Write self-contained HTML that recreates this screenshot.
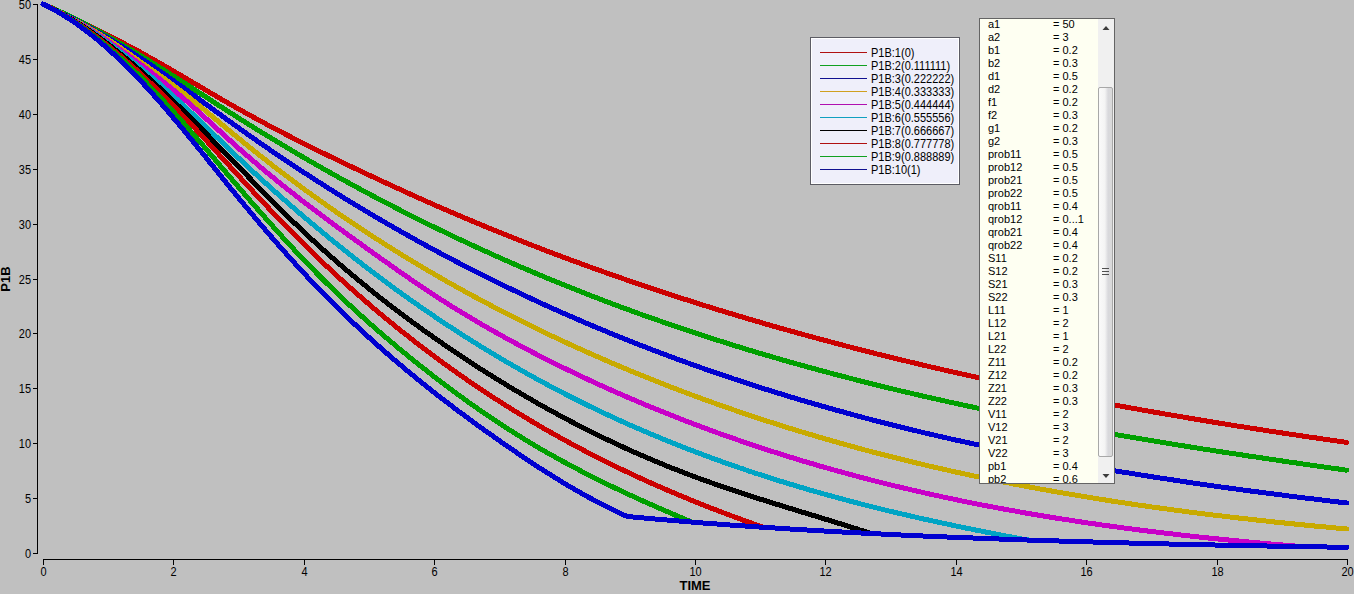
<!DOCTYPE html>
<html><head><meta charset="utf-8"><style>
html,body{margin:0;padding:0;}
body{width:1354px;height:594px;overflow:hidden;background:#c0c0c0;position:relative;font-family:"Liberation Sans", sans-serif;}
svg{position:absolute;left:0;top:0;}
#legend{position:absolute;left:810px;top:37px;width:148px;height:146px;border:1px solid #5c5c64;background:#efeffa;font-size:11px;color:#000;overflow:hidden;}
#legend .in{position:absolute;left:0;top:0;right:0;bottom:0;border:1px solid #ffffff;}
#lb{position:absolute;left:979px;top:18px;width:134px;height:464px;border:1px solid #646464;background:#fefff2;font-size:11px;color:#000;overflow:hidden;}
#sb{position:absolute;left:118px;top:0;width:16px;height:464px;background:#f0f0f0;}
#thumb{position:absolute;left:0px;top:68px;width:13px;height:368px;border:1px solid #a8a8a8;border-radius:2px;background:linear-gradient(to right,#fafafa 0%,#f4f4f4 45%,#d8d8dc 70%,#dadada 100%);}
</style></head><body>
<svg width="1354" height="594" viewBox="0 0 1354 594">
<g stroke="#000" stroke-width="1" shape-rendering="crispEdges">
<line x1="37.5" y1="4" x2="37.5" y2="554"/>
<line x1="43" y1="559.5" x2="1348" y2="559.5"/>
<line x1="33" y1="553.5" x2="37" y2="553.5"/><line x1="33" y1="498.5" x2="37" y2="498.5"/><line x1="33" y1="443.5" x2="37" y2="443.5"/><line x1="33" y1="388.5" x2="37" y2="388.5"/><line x1="33" y1="333.5" x2="37" y2="333.5"/><line x1="33" y1="279.5" x2="37" y2="279.5"/><line x1="33" y1="224.5" x2="37" y2="224.5"/><line x1="33" y1="169.5" x2="37" y2="169.5"/><line x1="33" y1="114.5" x2="37" y2="114.5"/><line x1="33" y1="59.5" x2="37" y2="59.5"/><line x1="33" y1="4.5" x2="37" y2="4.5"/>
<line x1="43.5" y1="559" x2="43.5" y2="565"/><line x1="173.5" y1="559" x2="173.5" y2="565"/><line x1="304.5" y1="559" x2="304.5" y2="565"/><line x1="434.5" y1="559" x2="434.5" y2="565"/><line x1="565.5" y1="559" x2="565.5" y2="565"/><line x1="695.5" y1="559" x2="695.5" y2="565"/><line x1="825.5" y1="559" x2="825.5" y2="565"/><line x1="956.5" y1="559" x2="956.5" y2="565"/><line x1="1086.5" y1="559" x2="1086.5" y2="565"/><line x1="1217.5" y1="559" x2="1217.5" y2="565"/><line x1="1347.5" y1="559" x2="1347.5" y2="565"/>
</g>
<g font-family="Liberation Sans" font-size="11" fill="#000">
<text transform="translate(31,557.5) scale(1,1.12)" text-anchor="end">0</text><text transform="translate(31,502.5) scale(1,1.12)" text-anchor="end">5</text><text transform="translate(31,447.5) scale(1,1.12)" text-anchor="end">10</text><text transform="translate(31,392.5) scale(1,1.12)" text-anchor="end">15</text><text transform="translate(31,337.5) scale(1,1.12)" text-anchor="end">20</text><text transform="translate(31,283.5) scale(1,1.12)" text-anchor="end">25</text><text transform="translate(31,228.5) scale(1,1.12)" text-anchor="end">30</text><text transform="translate(31,173.5) scale(1,1.12)" text-anchor="end">35</text><text transform="translate(31,118.5) scale(1,1.12)" text-anchor="end">40</text><text transform="translate(31,63.5) scale(1,1.12)" text-anchor="end">45</text><text transform="translate(31,8.5) scale(1,1.12)" text-anchor="end">50</text>
<text transform="translate(43.5,576) scale(1,1.12)" text-anchor="middle">0</text><text transform="translate(173.5,576) scale(1,1.12)" text-anchor="middle">2</text><text transform="translate(304.5,576) scale(1,1.12)" text-anchor="middle">4</text><text transform="translate(434.5,576) scale(1,1.12)" text-anchor="middle">6</text><text transform="translate(565.5,576) scale(1,1.12)" text-anchor="middle">8</text><text transform="translate(695.5,576) scale(1,1.12)" text-anchor="middle">10</text><text transform="translate(825.5,576) scale(1,1.12)" text-anchor="middle">12</text><text transform="translate(956.5,576) scale(1,1.12)" text-anchor="middle">14</text><text transform="translate(1086.5,576) scale(1,1.12)" text-anchor="middle">16</text><text transform="translate(1217.5,576) scale(1,1.12)" text-anchor="middle">18</text><text transform="translate(1347.5,576) scale(1,1.12)" text-anchor="middle">20</text>
<text x="695" y="590" text-anchor="middle" font-weight="bold" font-size="13">TIME</text>
<text transform="translate(10,279) rotate(-90)" text-anchor="middle" font-weight="bold" font-size="13">P1B</text>
</g>
<g fill="none" stroke-width="5" stroke-linejoin="round" stroke-linecap="round" shape-rendering="crispEdges">
<path d="M43.0,4.0 L45.0,4.9 L47.0,5.8 L49.0,6.7 L51.0,7.6 L53.0,8.5 L55.0,9.5 L57.0,10.4 L59.0,11.3 L61.0,12.2 L63.0,13.2 L65.0,14.1 L67.0,15.0 L69.0,16.0 L71.0,16.9 L73.0,17.9 L75.0,18.8 L77.0,19.8 L79.0,20.7 L81.0,21.7 L83.0,22.7 L85.0,23.7 L87.0,24.6 L89.0,25.6 L91.0,26.6 L93.0,27.6 L95.0,28.6 L97.0,29.6 L99.0,30.6 L101.0,31.6 L103.0,32.6 L105.0,33.6 L107.0,34.6 L109.0,35.6 L111.0,36.7 L113.0,37.7 L115.0,38.7 L117.0,39.8 L119.0,40.8 L121.0,41.9 L123.0,42.9 L125.0,44.0 L127.0,45.1 L129.0,46.1 L131.0,47.2 L133.0,48.3 L135.0,49.4 L137.0,50.5 L139.0,51.5 L141.0,52.7 L143.0,53.8 L145.0,54.9 L147.0,56.0 L149.0,57.1 L151.0,58.2 L153.0,59.4 L155.0,60.5 L157.0,61.6 L159.0,62.8 L161.0,63.9 L163.0,65.1 L165.0,66.2 L167.0,67.4 L169.0,68.5 L171.0,69.7 L173.0,70.9 L175.0,72.0 L177.0,73.2 L179.0,74.4 L181.0,75.5 L183.0,76.7 L185.0,77.9 L187.0,79.0 L189.0,80.2 L191.0,81.4 L193.0,82.6 L195.0,83.7 L197.0,84.9 L199.0,86.1 L201.0,87.3 L203.0,88.4 L205.0,89.6 L206.9,90.8 L208.9,91.9 L210.9,93.1 L212.9,94.3 L214.9,95.4 L216.9,96.6 L218.9,97.8 L220.9,98.9 L222.9,100.1 L224.9,101.2 L226.9,102.4 L228.9,103.5 L230.9,104.7 L232.9,105.8 L234.9,106.9 L236.9,108.1 L238.9,109.2 L240.9,110.3 L242.9,111.4 L244.9,112.5 L246.9,113.6 L248.9,114.7 L250.9,115.8 L252.9,116.9 L254.9,118.0 L256.9,119.1 L258.9,120.2 L260.9,121.3 L262.9,122.4 L264.9,123.4 L266.9,124.5 L268.9,125.6 L270.9,126.6 L272.9,127.7 L274.9,128.7 L276.9,129.8 L278.9,130.8 L280.9,131.9 L282.9,132.9 L284.9,133.9 L286.9,135.0 L288.9,136.0 L290.9,137.0 L292.9,138.1 L294.9,139.1 L296.9,140.1 L298.9,141.1 L300.9,142.1 L302.9,143.1 L304.9,144.1 L306.9,145.1 L308.9,146.1 L310.9,147.1 L312.9,148.1 L314.9,149.1 L316.9,150.1 L318.9,151.1 L320.9,152.1 L322.9,153.0 L324.9,154.0 L326.9,155.0 L328.9,156.0 L330.9,156.9 L332.9,157.9 L334.9,158.9 L336.9,159.8 L338.9,160.8 L340.9,161.8 L342.9,162.7 L344.9,163.7 L346.9,164.6 L348.9,165.6 L350.9,166.5 L352.9,167.5 L354.9,168.4 L356.9,169.4 L358.9,170.3 L360.9,171.3 L362.9,172.2 L364.9,173.2 L366.9,174.1 L368.9,175.0 L370.9,176.0 L372.9,176.9 L374.9,177.8 L376.9,178.8 L378.9,179.7 L380.9,180.6 L382.9,181.6 L384.9,182.5 L386.9,183.4 L388.9,184.3 L390.9,185.3 L392.9,186.2 L394.9,187.1 L396.9,188.0 L398.9,188.9 L400.9,189.8 L402.9,190.8 L404.9,191.7 L406.9,192.6 L408.9,193.5 L410.9,194.4 L412.9,195.3 L414.9,196.2 L416.9,197.1 L418.9,198.0 L420.9,198.9 L422.9,199.8 L424.9,200.7 L426.9,201.6 L428.9,202.4 L430.9,203.3 L432.9,204.2 L434.9,205.1 L436.9,206.0 L438.9,206.8 L440.9,207.7 L442.9,208.6 L444.9,209.5 L446.9,210.3 L448.9,211.2 L450.9,212.0 L452.9,212.9 L454.9,213.8 L456.9,214.6 L458.9,215.5 L460.9,216.3 L462.9,217.2 L464.9,218.0 L466.9,218.9 L468.9,219.7 L470.9,220.5 L472.9,221.4 L474.9,222.2 L476.9,223.1 L478.9,223.9 L480.9,224.7 L482.9,225.5 L484.9,226.4 L486.9,227.2 L488.9,228.0 L490.9,228.8 L492.9,229.7 L494.9,230.5 L496.9,231.3 L498.9,232.1 L500.9,232.9 L502.9,233.7 L504.9,234.5 L506.9,235.3 L508.9,236.1 L510.9,236.9 L512.9,237.7 L514.9,238.5 L516.9,239.3 L518.9,240.1 L520.9,240.9 L522.9,241.7 L524.9,242.4 L526.9,243.2 L528.9,244.0 L530.9,244.8 L532.8,245.6 L534.8,246.3 L536.8,247.1 L538.8,247.9 L540.8,248.7 L542.8,249.4 L544.8,250.2 L546.8,251.0 L548.8,251.7 L550.8,252.5 L552.8,253.2 L554.8,254.0 L556.8,254.7 L558.8,255.5 L560.8,256.2 L562.8,257.0 L564.8,257.7 L566.8,258.5 L568.8,259.2 L570.8,260.0 L572.8,260.7 L574.8,261.4 L576.8,262.2 L578.8,262.9 L580.8,263.6 L582.8,264.4 L584.8,265.1 L586.8,265.8 L588.8,266.6 L590.8,267.3 L592.8,268.0 L594.8,268.7 L596.8,269.4 L598.8,270.2 L600.8,270.9 L602.8,271.6 L604.8,272.3 L606.8,273.0 L608.8,273.7 L610.8,274.4 L612.8,275.1 L614.8,275.8 L616.8,276.5 L618.8,277.2 L620.8,277.9 L622.8,278.6 L624.8,279.3 L626.8,280.0 L628.8,280.7 L630.8,281.4 L632.8,282.1 L634.8,282.7 L636.8,283.4 L638.8,284.1 L640.8,284.8 L642.8,285.5 L644.8,286.1 L646.8,286.8 L648.8,287.5 L650.8,288.1 L652.8,288.8 L654.8,289.5 L656.8,290.2 L658.8,290.8 L660.8,291.5 L662.8,292.1 L664.8,292.8 L666.8,293.5 L668.8,294.1 L670.8,294.8 L672.8,295.4 L674.8,296.1 L676.8,296.7 L678.8,297.4 L680.8,298.0 L682.8,298.7 L684.8,299.3 L686.8,299.9 L688.8,300.6 L690.8,301.2 L692.8,301.8 L694.8,302.5 L696.8,303.1 L698.8,303.7 L700.8,304.4 L702.8,305.0 L704.8,305.6 L706.8,306.3 L708.8,306.9 L710.8,307.5 L712.8,308.1 L714.8,308.7 L716.8,309.4 L718.8,310.0 L720.8,310.6 L722.8,311.2 L724.8,311.8 L726.8,312.4 L728.8,313.0 L730.8,313.6 L732.8,314.2 L734.8,314.8 L736.8,315.4 L738.8,316.0 L740.8,316.6 L742.8,317.2 L744.8,317.8 L746.8,318.4 L748.8,319.0 L750.8,319.6 L752.8,320.2 L754.8,320.8 L756.8,321.4 L758.8,321.9 L760.8,322.5 L762.8,323.1 L764.8,323.7 L766.8,324.3 L768.8,324.8 L770.8,325.4 L772.8,326.0 L774.8,326.6 L776.8,327.1 L778.8,327.7 L780.8,328.3 L782.8,328.8 L784.8,329.4 L786.8,330.0 L788.8,330.5 L790.8,331.1 L792.8,331.6 L794.8,332.2 L796.8,332.8 L798.8,333.3 L800.8,333.9 L802.8,334.4 L804.8,335.0 L806.8,335.5 L808.8,336.1 L810.8,336.6 L812.8,337.2 L814.8,337.7 L816.8,338.2 L818.8,338.8 L820.8,339.3 L822.8,339.9 L824.8,340.4 L826.8,340.9 L828.8,341.5 L830.8,342.0 L832.8,342.5 L834.8,343.1 L836.8,343.6 L838.8,344.1 L840.8,344.6 L842.8,345.2 L844.8,345.7 L846.8,346.2 L848.8,346.7 L850.8,347.2 L852.8,347.8 L854.8,348.3 L856.8,348.8 L858.7,349.3 L860.7,349.8 L862.7,350.3 L864.7,350.8 L866.7,351.3 L868.7,351.8 L870.7,352.3 L872.7,352.8 L874.7,353.3 L876.7,353.9 L878.7,354.3 L880.7,354.8 L882.7,355.3 L884.7,355.8 L886.7,356.3 L888.7,356.8 L890.7,357.3 L892.7,357.8 L894.7,358.3 L896.7,358.8 L898.7,359.3 L900.7,359.8 L902.7,360.2 L904.7,360.7 L906.7,361.2 L908.7,361.7 L910.7,362.2 L912.7,362.6 L914.7,363.1 L916.7,363.6 L918.7,364.1 L920.7,364.5 L922.7,365.0 L924.7,365.5 L926.7,366.0 L928.7,366.4 L930.7,366.9 L932.7,367.4 L934.7,367.8 L936.7,368.3 L938.7,368.7 L940.7,369.2 L942.7,369.7 L944.7,370.1 L946.7,370.6 L948.7,371.0 L950.7,371.5 L952.7,371.9 L954.7,372.4 L956.7,372.8 L958.7,373.3 L960.7,373.7 L962.7,374.2 L964.7,374.6 L966.7,375.1 L968.7,375.5 L970.7,376.0 L972.7,376.4 L974.7,376.8 L976.7,377.3 L978.7,377.7 L980.7,378.2 L982.7,378.6 L984.7,379.0 L986.7,379.5 L988.7,379.9 L990.7,380.3 L992.7,380.8 L994.7,381.2 L996.7,381.6 L998.7,382.0 L1000.7,382.5 L1002.7,382.9 L1004.7,383.3 L1006.7,383.7 L1008.7,384.2 L1010.7,384.6 L1012.7,385.0 L1014.7,385.4 L1016.7,385.8 L1018.7,386.2 L1020.7,386.7 L1022.7,387.1 L1024.7,387.5 L1026.7,387.9 L1028.7,388.3 L1030.7,388.7 L1032.7,389.1 L1034.7,389.5 L1036.7,389.9 L1038.7,390.3 L1040.7,390.8 L1042.7,391.2 L1044.7,391.6 L1046.7,392.0 L1048.7,392.4 L1050.7,392.8 L1052.7,393.2 L1054.7,393.6 L1056.7,393.9 L1058.7,394.3 L1060.7,394.7 L1062.7,395.1 L1064.7,395.5 L1066.7,395.9 L1068.7,396.3 L1070.7,396.7 L1072.7,397.1 L1074.7,397.5 L1076.7,397.9 L1078.7,398.2 L1080.7,398.6 L1082.7,399.0 L1084.7,399.4 L1086.7,399.8 L1088.7,400.1 L1090.7,400.5 L1092.7,400.9 L1094.7,401.3 L1096.7,401.7 L1098.7,402.0 L1100.7,402.4 L1102.7,402.8 L1104.7,403.2 L1106.7,403.5 L1108.7,403.9 L1110.7,404.3 L1112.7,404.6 L1114.7,405.0 L1116.7,405.4 L1118.7,405.7 L1120.7,406.1 L1122.7,406.5 L1124.7,406.8 L1126.7,407.2 L1128.7,407.6 L1130.7,407.9 L1132.7,408.3 L1134.7,408.6 L1136.7,409.0 L1138.7,409.4 L1140.7,409.7 L1142.7,410.1 L1144.7,410.4 L1146.7,410.8 L1148.7,411.1 L1150.7,411.5 L1152.7,411.8 L1154.7,412.2 L1156.7,412.5 L1158.7,412.9 L1160.7,413.2 L1162.7,413.6 L1164.7,413.9 L1166.7,414.3 L1168.7,414.6 L1170.7,415.0 L1172.7,415.3 L1174.7,415.6 L1176.7,416.0 L1178.7,416.3 L1180.7,416.7 L1182.7,417.0 L1184.6,417.3 L1186.6,417.7 L1188.6,418.0 L1190.6,418.3 L1192.6,418.7 L1194.6,419.0 L1196.6,419.3 L1198.6,419.7 L1200.6,420.0 L1202.6,420.3 L1204.6,420.7 L1206.6,421.0 L1208.6,421.3 L1210.6,421.7 L1212.6,422.0 L1214.6,422.3 L1216.6,422.6 L1218.6,423.0 L1220.6,423.3 L1222.6,423.6 L1224.6,423.9 L1226.6,424.3 L1228.6,424.6 L1230.6,424.9 L1232.6,425.2 L1234.6,425.5 L1236.6,425.9 L1238.6,426.2 L1240.6,426.5 L1242.6,426.8 L1244.6,427.1 L1246.6,427.4 L1248.6,427.7 L1250.6,428.1 L1252.6,428.4 L1254.6,428.7 L1256.6,429.0 L1258.6,429.3 L1260.6,429.6 L1262.6,429.9 L1264.6,430.2 L1266.6,430.5 L1268.6,430.9 L1270.6,431.2 L1272.6,431.5 L1274.6,431.8 L1276.6,432.1 L1278.6,432.4 L1280.6,432.7 L1282.6,433.0 L1284.6,433.3 L1286.6,433.6 L1288.6,433.9 L1290.6,434.2 L1292.6,434.5 L1294.6,434.8 L1296.6,435.1 L1298.6,435.4 L1300.6,435.7 L1302.6,436.0 L1304.6,436.3 L1306.6,436.6 L1308.6,436.9 L1310.6,437.2 L1312.6,437.5 L1314.6,437.7 L1316.6,438.0 L1318.6,438.3 L1320.6,438.6 L1322.6,438.9 L1324.6,439.2 L1326.6,439.5 L1328.6,439.8 L1330.6,440.1 L1332.6,440.4 L1334.6,440.6 L1336.6,440.9 L1338.6,441.2 L1340.6,441.5 L1342.6,441.8 L1344.6,442.1 L1346.6,442.4" stroke="#cc0000"/>
<path d="M43.0,4.0 L45.0,4.9 L47.0,5.7 L49.0,6.6 L51.0,7.5 L53.0,8.4 L55.0,9.3 L57.0,10.2 L59.0,11.1 L61.0,12.1 L63.0,13.0 L65.0,14.0 L67.0,14.9 L69.0,15.9 L71.0,16.9 L73.0,17.9 L75.0,18.9 L77.0,19.9 L79.0,20.9 L81.0,21.9 L83.0,22.9 L85.0,24.0 L87.0,25.0 L89.0,26.1 L91.0,27.1 L93.0,28.2 L95.0,29.3 L97.0,30.4 L99.0,31.4 L101.0,32.5 L103.0,33.6 L105.0,34.8 L107.0,35.9 L109.0,37.0 L111.0,38.1 L113.0,39.3 L115.0,40.4 L117.0,41.6 L119.0,42.7 L121.0,43.9 L123.0,45.0 L125.0,46.2 L127.0,47.4 L129.0,48.6 L131.0,49.8 L133.0,51.0 L135.0,52.2 L137.0,53.4 L139.0,54.6 L141.0,55.8 L143.0,57.0 L145.0,58.3 L147.0,59.5 L149.0,60.7 L151.0,62.0 L153.0,63.2 L155.0,64.5 L157.0,65.7 L159.0,67.0 L161.0,68.2 L163.0,69.5 L165.0,70.7 L167.0,72.0 L169.0,73.3 L171.0,74.6 L173.0,75.8 L175.0,77.1 L177.0,78.4 L179.0,79.7 L181.0,81.0 L183.0,82.2 L185.0,83.5 L187.0,84.8 L189.0,86.1 L191.0,87.4 L193.0,88.7 L195.0,90.0 L197.0,91.3 L199.0,92.6 L201.0,93.9 L203.0,95.1 L205.0,96.4 L206.9,97.7 L208.9,99.0 L210.9,100.3 L212.9,101.6 L214.9,102.9 L216.9,104.2 L218.9,105.5 L220.9,106.8 L222.9,108.0 L224.9,109.3 L226.9,110.6 L228.9,111.9 L230.9,113.2 L232.9,114.4 L234.9,115.7 L236.9,117.0 L238.9,118.2 L240.9,119.5 L242.9,120.7 L244.9,122.0 L246.9,123.2 L248.9,124.5 L250.9,125.7 L252.9,127.0 L254.9,128.2 L256.9,129.5 L258.9,130.7 L260.9,131.9 L262.9,133.1 L264.9,134.4 L266.9,135.6 L268.9,136.8 L270.9,138.0 L272.9,139.2 L274.9,140.4 L276.9,141.6 L278.9,142.8 L280.9,144.0 L282.9,145.2 L284.9,146.4 L286.9,147.6 L288.9,148.8 L290.9,150.0 L292.9,151.2 L294.9,152.4 L296.9,153.5 L298.9,154.7 L300.9,155.9 L302.9,157.0 L304.9,158.2 L306.9,159.4 L308.9,160.5 L310.9,161.7 L312.9,162.8 L314.9,164.0 L316.9,165.1 L318.9,166.2 L320.9,167.4 L322.9,168.5 L324.9,169.7 L326.9,170.8 L328.9,171.9 L330.9,173.0 L332.9,174.2 L334.9,175.3 L336.9,176.4 L338.9,177.5 L340.9,178.6 L342.9,179.7 L344.9,180.8 L346.9,181.9 L348.9,183.0 L350.9,184.1 L352.9,185.2 L354.9,186.3 L356.9,187.4 L358.9,188.5 L360.9,189.5 L362.9,190.6 L364.9,191.7 L366.9,192.8 L368.9,193.8 L370.9,194.9 L372.9,196.0 L374.9,197.0 L376.9,198.1 L378.9,199.1 L380.9,200.2 L382.9,201.2 L384.9,202.3 L386.9,203.3 L388.9,204.4 L390.9,205.4 L392.9,206.4 L394.9,207.5 L396.9,208.5 L398.9,209.5 L400.9,210.5 L402.9,211.6 L404.9,212.6 L406.9,213.6 L408.9,214.6 L410.9,215.6 L412.9,216.6 L414.9,217.6 L416.9,218.6 L418.9,219.6 L420.9,220.6 L422.9,221.6 L424.9,222.6 L426.9,223.6 L428.9,224.6 L430.9,225.6 L432.9,226.5 L434.9,227.5 L436.9,228.5 L438.9,229.5 L440.9,230.4 L442.9,231.4 L444.9,232.3 L446.9,233.3 L448.9,234.3 L450.9,235.2 L452.9,236.2 L454.9,237.1 L456.9,238.1 L458.9,239.0 L460.9,240.0 L462.9,240.9 L464.9,241.8 L466.9,242.8 L468.9,243.7 L470.9,244.6 L472.9,245.5 L474.9,246.5 L476.9,247.4 L478.9,248.3 L480.9,249.2 L482.9,250.1 L484.9,251.0 L486.9,251.9 L488.9,252.9 L490.9,253.8 L492.9,254.7 L494.9,255.6 L496.9,256.4 L498.9,257.3 L500.9,258.2 L502.9,259.1 L504.9,260.0 L506.9,260.9 L508.9,261.8 L510.9,262.6 L512.9,263.5 L514.9,264.4 L516.9,265.2 L518.9,266.1 L520.9,267.0 L522.9,267.8 L524.9,268.7 L526.9,269.5 L528.9,270.4 L530.9,271.2 L532.8,272.1 L534.8,272.9 L536.8,273.8 L538.8,274.6 L540.8,275.5 L542.8,276.3 L544.8,277.1 L546.8,278.0 L548.8,278.8 L550.8,279.6 L552.8,280.4 L554.8,281.3 L556.8,282.1 L558.8,282.9 L560.8,283.7 L562.8,284.5 L564.8,285.3 L566.8,286.1 L568.8,286.9 L570.8,287.7 L572.8,288.5 L574.8,289.3 L576.8,290.1 L578.8,290.9 L580.8,291.7 L582.8,292.5 L584.8,293.3 L586.8,294.1 L588.8,294.8 L590.8,295.6 L592.8,296.4 L594.8,297.2 L596.8,297.9 L598.8,298.7 L600.8,299.5 L602.8,300.2 L604.8,301.0 L606.8,301.7 L608.8,302.5 L610.8,303.2 L612.8,304.0 L614.8,304.7 L616.8,305.5 L618.8,306.2 L620.8,307.0 L622.8,307.7 L624.8,308.5 L626.8,309.2 L628.8,309.9 L630.8,310.7 L632.8,311.4 L634.8,312.1 L636.8,312.8 L638.8,313.6 L640.8,314.3 L642.8,315.0 L644.8,315.7 L646.8,316.4 L648.8,317.1 L650.8,317.8 L652.8,318.5 L654.8,319.2 L656.8,319.9 L658.8,320.6 L660.8,321.3 L662.8,322.0 L664.8,322.7 L666.8,323.4 L668.8,324.1 L670.8,324.8 L672.8,325.5 L674.8,326.2 L676.8,326.8 L678.8,327.5 L680.8,328.2 L682.8,328.9 L684.8,329.5 L686.8,330.2 L688.8,330.9 L690.8,331.5 L692.8,332.2 L694.8,332.9 L696.8,333.5 L698.8,334.2 L700.8,334.8 L702.8,335.5 L704.8,336.1 L706.8,336.8 L708.8,337.4 L710.8,338.1 L712.8,338.7 L714.8,339.4 L716.8,340.0 L718.8,340.6 L720.8,341.3 L722.8,341.9 L724.8,342.5 L726.8,343.2 L728.8,343.8 L730.8,344.4 L732.8,345.0 L734.8,345.7 L736.8,346.3 L738.8,346.9 L740.8,347.5 L742.8,348.1 L744.8,348.7 L746.8,349.3 L748.8,350.0 L750.8,350.6 L752.8,351.2 L754.8,351.8 L756.8,352.4 L758.8,353.0 L760.8,353.6 L762.8,354.1 L764.8,354.7 L766.8,355.3 L768.8,355.9 L770.8,356.5 L772.8,357.1 L774.8,357.7 L776.8,358.2 L778.8,358.8 L780.8,359.4 L782.8,360.0 L784.8,360.6 L786.8,361.1 L788.8,361.7 L790.8,362.3 L792.8,362.8 L794.8,363.4 L796.8,364.0 L798.8,364.5 L800.8,365.1 L802.8,365.6 L804.8,366.2 L806.8,366.7 L808.8,367.3 L810.8,367.8 L812.8,368.4 L814.8,368.9 L816.8,369.5 L818.8,370.0 L820.8,370.6 L822.8,371.1 L824.8,371.6 L826.8,372.2 L828.8,372.7 L830.8,373.2 L832.8,373.8 L834.8,374.3 L836.8,374.8 L838.8,375.4 L840.8,375.9 L842.8,376.4 L844.8,376.9 L846.8,377.4 L848.8,378.0 L850.8,378.5 L852.8,379.0 L854.8,379.5 L856.8,380.0 L858.7,380.5 L860.7,381.0 L862.7,381.5 L864.7,382.0 L866.7,382.5 L868.7,383.0 L870.7,383.5 L872.7,384.0 L874.7,384.5 L876.7,385.0 L878.7,385.5 L880.7,386.0 L882.7,386.5 L884.7,387.0 L886.7,387.5 L888.7,388.0 L890.7,388.5 L892.7,388.9 L894.7,389.4 L896.7,389.9 L898.7,390.4 L900.7,390.9 L902.7,391.3 L904.7,391.8 L906.7,392.3 L908.7,392.7 L910.7,393.2 L912.7,393.7 L914.7,394.2 L916.7,394.6 L918.7,395.1 L920.7,395.5 L922.7,396.0 L924.7,396.5 L926.7,396.9 L928.7,397.4 L930.7,397.8 L932.7,398.3 L934.7,398.7 L936.7,399.2 L938.7,399.6 L940.7,400.1 L942.7,400.5 L944.7,401.0 L946.7,401.4 L948.7,401.9 L950.7,402.3 L952.7,402.7 L954.7,403.2 L956.7,403.6 L958.7,404.1 L960.7,404.5 L962.7,404.9 L964.7,405.3 L966.7,405.8 L968.7,406.2 L970.7,406.6 L972.7,407.1 L974.7,407.5 L976.7,407.9 L978.7,408.3 L980.7,408.8 L982.7,409.2 L984.7,409.6 L986.7,410.0 L988.7,410.4 L990.7,410.8 L992.7,411.3 L994.7,411.7 L996.7,412.1 L998.7,412.5 L1000.7,412.9 L1002.7,413.3 L1004.7,413.7 L1006.7,414.1 L1008.7,414.5 L1010.7,414.9 L1012.7,415.3 L1014.7,415.7 L1016.7,416.1 L1018.7,416.5 L1020.7,416.9 L1022.7,417.3 L1024.7,417.7 L1026.7,418.1 L1028.7,418.5 L1030.7,418.9 L1032.7,419.3 L1034.7,419.7 L1036.7,420.1 L1038.7,420.4 L1040.7,420.8 L1042.7,421.2 L1044.7,421.6 L1046.7,422.0 L1048.7,422.4 L1050.7,422.7 L1052.7,423.1 L1054.7,423.5 L1056.7,423.9 L1058.7,424.2 L1060.7,424.6 L1062.7,425.0 L1064.7,425.4 L1066.7,425.7 L1068.7,426.1 L1070.7,426.5 L1072.7,426.8 L1074.7,427.2 L1076.7,427.6 L1078.7,427.9 L1080.7,428.3 L1082.7,428.7 L1084.7,429.0 L1086.7,429.4 L1088.7,429.8 L1090.7,430.1 L1092.7,430.5 L1094.7,430.8 L1096.7,431.2 L1098.7,431.5 L1100.7,431.9 L1102.7,432.3 L1104.7,432.6 L1106.7,433.0 L1108.7,433.3 L1110.7,433.7 L1112.7,434.0 L1114.7,434.4 L1116.7,434.7 L1118.7,435.1 L1120.7,435.4 L1122.7,435.7 L1124.7,436.1 L1126.7,436.4 L1128.7,436.8 L1130.7,437.1 L1132.7,437.5 L1134.7,437.8 L1136.7,438.1 L1138.7,438.5 L1140.7,438.8 L1142.7,439.1 L1144.7,439.5 L1146.7,439.8 L1148.7,440.1 L1150.7,440.5 L1152.7,440.8 L1154.7,441.1 L1156.7,441.5 L1158.7,441.8 L1160.7,442.1 L1162.7,442.5 L1164.7,442.8 L1166.7,443.1 L1168.7,443.4 L1170.7,443.8 L1172.7,444.1 L1174.7,444.4 L1176.7,444.7 L1178.7,445.1 L1180.7,445.4 L1182.7,445.7 L1184.6,446.0 L1186.6,446.4 L1188.6,446.7 L1190.6,447.0 L1192.6,447.3 L1194.6,447.6 L1196.6,447.9 L1198.6,448.3 L1200.6,448.6 L1202.6,448.9 L1204.6,449.2 L1206.6,449.5 L1208.6,449.8 L1210.6,450.1 L1212.6,450.4 L1214.6,450.8 L1216.6,451.1 L1218.6,451.4 L1220.6,451.7 L1222.6,452.0 L1224.6,452.3 L1226.6,452.6 L1228.6,452.9 L1230.6,453.2 L1232.6,453.5 L1234.6,453.8 L1236.6,454.1 L1238.6,454.4 L1240.6,454.7 L1242.6,455.0 L1244.6,455.3 L1246.6,455.6 L1248.6,456.0 L1250.6,456.3 L1252.6,456.6 L1254.6,456.9 L1256.6,457.1 L1258.6,457.4 L1260.6,457.7 L1262.6,458.0 L1264.6,458.3 L1266.6,458.6 L1268.6,458.9 L1270.6,459.2 L1272.6,459.5 L1274.6,459.8 L1276.6,460.1 L1278.6,460.4 L1280.6,460.7 L1282.6,461.0 L1284.6,461.3 L1286.6,461.6 L1288.6,461.9 L1290.6,462.2 L1292.6,462.5 L1294.6,462.7 L1296.6,463.0 L1298.6,463.3 L1300.6,463.6 L1302.6,463.9 L1304.6,464.2 L1306.6,464.5 L1308.6,464.8 L1310.6,465.1 L1312.6,465.3 L1314.6,465.6 L1316.6,465.9 L1318.6,466.2 L1320.6,466.5 L1322.6,466.8 L1324.6,467.1 L1326.6,467.3 L1328.6,467.6 L1330.6,467.9 L1332.6,468.2 L1334.6,468.5 L1336.6,468.8 L1338.6,469.0 L1340.6,469.3 L1342.6,469.6 L1344.6,469.9 L1346.6,470.2" stroke="#00a000"/>
<path d="M43.0,4.0 L45.0,4.9 L47.0,5.9 L49.0,6.8 L51.0,7.8 L53.0,8.7 L55.0,9.7 L57.0,10.7 L59.0,11.7 L61.0,12.6 L63.0,13.6 L65.0,14.6 L67.0,15.7 L69.0,16.7 L71.0,17.7 L73.0,18.7 L75.0,19.8 L77.0,20.8 L79.0,21.9 L81.0,22.9 L83.0,24.0 L85.0,25.1 L87.0,26.2 L89.0,27.3 L91.0,28.4 L93.0,29.5 L95.0,30.6 L97.0,31.7 L99.0,32.8 L101.0,34.0 L103.0,35.1 L105.0,36.3 L107.0,37.4 L109.0,38.6 L111.0,39.8 L113.0,41.0 L115.0,42.2 L117.0,43.4 L119.0,44.6 L121.0,45.8 L123.0,47.0 L125.0,48.3 L127.0,49.5 L129.0,50.8 L131.0,52.1 L133.0,53.3 L135.0,54.6 L137.0,55.9 L139.0,57.2 L141.0,58.5 L143.0,59.8 L145.0,61.1 L147.0,62.5 L149.0,63.8 L151.0,65.2 L153.0,66.5 L155.0,67.9 L157.0,69.2 L159.0,70.6 L161.0,72.0 L163.0,73.4 L165.0,74.8 L167.0,76.2 L169.0,77.6 L171.0,79.0 L173.0,80.4 L175.0,81.8 L177.0,83.3 L179.0,84.7 L181.0,86.1 L183.0,87.5 L185.0,89.0 L187.0,90.4 L189.0,91.9 L191.0,93.3 L193.0,94.8 L195.0,96.2 L197.0,97.7 L199.0,99.1 L201.0,100.6 L203.0,102.0 L205.0,103.5 L206.9,104.9 L208.9,106.4 L210.9,107.9 L212.9,109.3 L214.9,110.8 L216.9,112.2 L218.9,113.7 L220.9,115.1 L222.9,116.6 L224.9,118.0 L226.9,119.5 L228.9,120.9 L230.9,122.4 L232.9,123.8 L234.9,125.3 L236.9,126.7 L238.9,128.1 L240.9,129.5 L242.9,131.0 L244.9,132.4 L246.9,133.8 L248.9,135.2 L250.9,136.6 L252.9,138.0 L254.9,139.4 L256.9,140.8 L258.9,142.2 L260.9,143.6 L262.9,145.0 L264.9,146.3 L266.9,147.7 L268.9,149.1 L270.9,150.5 L272.9,151.8 L274.9,153.2 L276.9,154.5 L278.9,155.9 L280.9,157.2 L282.9,158.6 L284.9,159.9 L286.9,161.3 L288.9,162.6 L290.9,163.9 L292.9,165.3 L294.9,166.6 L296.9,167.9 L298.9,169.2 L300.9,170.5 L302.9,171.8 L304.9,173.1 L306.9,174.4 L308.9,175.7 L310.9,177.0 L312.9,178.3 L314.9,179.6 L316.9,180.9 L318.9,182.2 L320.9,183.4 L322.9,184.7 L324.9,186.0 L326.9,187.2 L328.9,188.5 L330.9,189.8 L332.9,191.0 L334.9,192.3 L336.9,193.5 L338.9,194.8 L340.9,196.0 L342.9,197.2 L344.9,198.5 L346.9,199.7 L348.9,200.9 L350.9,202.1 L352.9,203.4 L354.9,204.6 L356.9,205.8 L358.9,207.0 L360.9,208.2 L362.9,209.4 L364.9,210.6 L366.9,211.8 L368.9,213.0 L370.9,214.2 L372.9,215.3 L374.9,216.5 L376.9,217.7 L378.9,218.9 L380.9,220.0 L382.9,221.2 L384.9,222.4 L386.9,223.5 L388.9,224.7 L390.9,225.8 L392.9,227.0 L394.9,228.1 L396.9,229.3 L398.9,230.4 L400.9,231.5 L402.9,232.7 L404.9,233.8 L406.9,234.9 L408.9,236.0 L410.9,237.2 L412.9,238.3 L414.9,239.4 L416.9,240.5 L418.9,241.6 L420.9,242.7 L422.9,243.8 L424.9,244.9 L426.9,246.0 L428.9,247.1 L430.9,248.2 L432.9,249.3 L434.9,250.3 L436.9,251.4 L438.9,252.5 L440.9,253.5 L442.9,254.6 L444.9,255.7 L446.9,256.7 L448.9,257.8 L450.9,258.8 L452.9,259.9 L454.9,260.9 L456.9,262.0 L458.9,263.0 L460.9,264.1 L462.9,265.1 L464.9,266.1 L466.9,267.2 L468.9,268.2 L470.9,269.2 L472.9,270.2 L474.9,271.2 L476.9,272.3 L478.9,273.3 L480.9,274.3 L482.9,275.3 L484.9,276.3 L486.9,277.3 L488.9,278.3 L490.9,279.3 L492.9,280.2 L494.9,281.2 L496.9,282.2 L498.9,283.2 L500.9,284.2 L502.9,285.1 L504.9,286.1 L506.9,287.1 L508.9,288.0 L510.9,289.0 L512.9,290.0 L514.9,290.9 L516.9,291.9 L518.9,292.8 L520.9,293.8 L522.9,294.7 L524.9,295.6 L526.9,296.6 L528.9,297.5 L530.9,298.4 L532.8,299.4 L534.8,300.3 L536.8,301.2 L538.8,302.1 L540.8,303.1 L542.8,304.0 L544.8,304.9 L546.8,305.8 L548.8,306.7 L550.8,307.6 L552.8,308.5 L554.8,309.4 L556.8,310.3 L558.8,311.2 L560.8,312.1 L562.8,313.0 L564.8,313.8 L566.8,314.7 L568.8,315.6 L570.8,316.5 L572.8,317.3 L574.8,318.2 L576.8,319.1 L578.8,319.9 L580.8,320.8 L582.8,321.7 L584.8,322.5 L586.8,323.4 L588.8,324.2 L590.8,325.1 L592.8,325.9 L594.8,326.8 L596.8,327.6 L598.8,328.4 L600.8,329.3 L602.8,330.1 L604.8,330.9 L606.8,331.7 L608.8,332.6 L610.8,333.4 L612.8,334.2 L614.8,335.0 L616.8,335.8 L618.8,336.6 L620.8,337.4 L622.8,338.3 L624.8,339.1 L626.8,339.9 L628.8,340.6 L630.8,341.4 L632.8,342.2 L634.8,343.0 L636.8,343.8 L638.8,344.6 L640.8,345.4 L642.8,346.1 L644.8,346.9 L646.8,347.7 L648.8,348.5 L650.8,349.2 L652.8,350.0 L654.8,350.8 L656.8,351.5 L658.8,352.3 L660.8,353.0 L662.8,353.8 L664.8,354.5 L666.8,355.3 L668.8,356.0 L670.8,356.8 L672.8,357.5 L674.8,358.2 L676.8,359.0 L678.8,359.7 L680.8,360.4 L682.8,361.2 L684.8,361.9 L686.8,362.6 L688.8,363.3 L690.8,364.1 L692.8,364.8 L694.8,365.5 L696.8,366.2 L698.8,366.9 L700.8,367.6 L702.8,368.3 L704.8,369.0 L706.8,369.7 L708.8,370.4 L710.8,371.1 L712.8,371.8 L714.8,372.5 L716.8,373.2 L718.8,373.9 L720.8,374.5 L722.8,375.2 L724.8,375.9 L726.8,376.6 L728.8,377.2 L730.8,377.9 L732.8,378.6 L734.8,379.3 L736.8,379.9 L738.8,380.6 L740.8,381.2 L742.8,381.9 L744.8,382.5 L746.8,383.2 L748.8,383.8 L750.8,384.5 L752.8,385.1 L754.8,385.8 L756.8,386.4 L758.8,387.1 L760.8,387.7 L762.8,388.3 L764.8,389.0 L766.8,389.6 L768.8,390.2 L770.8,390.9 L772.8,391.5 L774.8,392.1 L776.8,392.7 L778.8,393.3 L780.8,393.9 L782.8,394.6 L784.8,395.2 L786.8,395.8 L788.8,396.4 L790.8,397.0 L792.8,397.6 L794.8,398.2 L796.8,398.8 L798.8,399.4 L800.8,400.0 L802.8,400.6 L804.8,401.2 L806.8,401.7 L808.8,402.3 L810.8,402.9 L812.8,403.5 L814.8,404.1 L816.8,404.6 L818.8,405.2 L820.8,405.8 L822.8,406.4 L824.8,406.9 L826.8,407.5 L828.8,408.1 L830.8,408.6 L832.8,409.2 L834.8,409.7 L836.8,410.3 L838.8,410.8 L840.8,411.4 L842.8,411.9 L844.8,412.5 L846.8,413.0 L848.8,413.6 L850.8,414.1 L852.8,414.7 L854.8,415.2 L856.8,415.7 L858.7,416.3 L860.7,416.8 L862.7,417.3 L864.7,417.9 L866.7,418.4 L868.7,418.9 L870.7,419.4 L872.7,420.0 L874.7,420.5 L876.7,421.0 L878.7,421.5 L880.7,422.0 L882.7,422.5 L884.7,423.0 L886.7,423.6 L888.7,424.1 L890.7,424.6 L892.7,425.1 L894.7,425.6 L896.7,426.1 L898.7,426.6 L900.7,427.1 L902.7,427.6 L904.7,428.0 L906.7,428.5 L908.7,429.0 L910.7,429.5 L912.7,430.0 L914.7,430.5 L916.7,431.0 L918.7,431.4 L920.7,431.9 L922.7,432.4 L924.7,432.9 L926.7,433.3 L928.7,433.8 L930.7,434.3 L932.7,434.7 L934.7,435.2 L936.7,435.7 L938.7,436.1 L940.7,436.6 L942.7,437.0 L944.7,437.5 L946.7,438.0 L948.7,438.4 L950.7,438.9 L952.7,439.3 L954.7,439.8 L956.7,440.2 L958.7,440.6 L960.7,441.1 L962.7,441.5 L964.7,442.0 L966.7,442.4 L968.7,442.8 L970.7,443.3 L972.7,443.7 L974.7,444.1 L976.7,444.6 L978.7,445.0 L980.7,445.4 L982.7,445.9 L984.7,446.3 L986.7,446.7 L988.7,447.1 L990.7,447.5 L992.7,448.0 L994.7,448.4 L996.7,448.8 L998.7,449.2 L1000.7,449.6 L1002.7,450.0 L1004.7,450.4 L1006.7,450.8 L1008.7,451.2 L1010.7,451.7 L1012.7,452.1 L1014.7,452.5 L1016.7,452.9 L1018.7,453.3 L1020.7,453.6 L1022.7,454.0 L1024.7,454.4 L1026.7,454.8 L1028.7,455.2 L1030.7,455.6 L1032.7,456.0 L1034.7,456.4 L1036.7,456.8 L1038.7,457.2 L1040.7,457.5 L1042.7,457.9 L1044.7,458.3 L1046.7,458.7 L1048.7,459.0 L1050.7,459.4 L1052.7,459.8 L1054.7,460.2 L1056.7,460.5 L1058.7,460.9 L1060.7,461.3 L1062.7,461.6 L1064.7,462.0 L1066.7,462.4 L1068.7,462.7 L1070.7,463.1 L1072.7,463.5 L1074.7,463.8 L1076.7,464.2 L1078.7,464.5 L1080.7,464.9 L1082.7,465.2 L1084.7,465.6 L1086.7,465.9 L1088.7,466.3 L1090.7,466.6 L1092.7,467.0 L1094.7,467.3 L1096.7,467.7 L1098.7,468.0 L1100.7,468.4 L1102.7,468.7 L1104.7,469.1 L1106.7,469.4 L1108.7,469.7 L1110.7,470.1 L1112.7,470.4 L1114.7,470.7 L1116.7,471.1 L1118.7,471.4 L1120.7,471.7 L1122.7,472.1 L1124.7,472.4 L1126.7,472.7 L1128.7,473.0 L1130.7,473.4 L1132.7,473.7 L1134.7,474.0 L1136.7,474.3 L1138.7,474.7 L1140.7,475.0 L1142.7,475.3 L1144.7,475.6 L1146.7,475.9 L1148.7,476.2 L1150.7,476.6 L1152.7,476.9 L1154.7,477.2 L1156.7,477.5 L1158.7,477.8 L1160.7,478.1 L1162.7,478.4 L1164.7,478.7 L1166.7,479.0 L1168.7,479.3 L1170.7,479.6 L1172.7,479.9 L1174.7,480.2 L1176.7,480.5 L1178.7,480.8 L1180.7,481.1 L1182.7,481.4 L1184.6,481.7 L1186.6,482.0 L1188.6,482.3 L1190.6,482.6 L1192.6,482.9 L1194.6,483.2 L1196.6,483.5 L1198.6,483.8 L1200.6,484.1 L1202.6,484.3 L1204.6,484.6 L1206.6,484.9 L1208.6,485.2 L1210.6,485.5 L1212.6,485.8 L1214.6,486.1 L1216.6,486.3 L1218.6,486.6 L1220.6,486.9 L1222.6,487.2 L1224.6,487.4 L1226.6,487.7 L1228.6,488.0 L1230.6,488.3 L1232.6,488.6 L1234.6,488.8 L1236.6,489.1 L1238.6,489.4 L1240.6,489.6 L1242.6,489.9 L1244.6,490.2 L1246.6,490.4 L1248.6,490.7 L1250.6,491.0 L1252.6,491.2 L1254.6,491.5 L1256.6,491.8 L1258.6,492.0 L1260.6,492.3 L1262.6,492.6 L1264.6,492.8 L1266.6,493.1 L1268.6,493.3 L1270.6,493.6 L1272.6,493.9 L1274.6,494.1 L1276.6,494.4 L1278.6,494.6 L1280.6,494.9 L1282.6,495.1 L1284.6,495.4 L1286.6,495.7 L1288.6,495.9 L1290.6,496.2 L1292.6,496.4 L1294.6,496.7 L1296.6,496.9 L1298.6,497.2 L1300.6,497.4 L1302.6,497.7 L1304.6,497.9 L1306.6,498.2 L1308.6,498.4 L1310.6,498.6 L1312.6,498.9 L1314.6,499.1 L1316.6,499.4 L1318.6,499.6 L1320.6,499.9 L1322.6,500.1 L1324.6,500.3 L1326.6,500.6 L1328.6,500.8 L1330.6,501.1 L1332.6,501.3 L1334.6,501.5 L1336.6,501.8 L1338.6,502.0 L1340.6,502.3 L1342.6,502.5 L1344.6,502.7 L1346.6,503.0" stroke="#0000d0"/>
<path d="M43.0,4.0 L45.0,5.0 L47.0,6.0 L49.0,7.0 L51.0,8.0 L53.0,9.0 L55.0,10.0 L57.0,11.0 L59.0,12.0 L61.0,13.0 L63.0,14.0 L65.0,15.1 L67.0,16.1 L69.0,17.1 L71.0,18.2 L73.0,19.2 L75.0,20.3 L77.0,21.4 L79.0,22.4 L81.0,23.5 L83.0,24.6 L85.0,25.7 L87.0,26.8 L89.0,28.0 L91.0,29.1 L93.0,30.3 L95.0,31.5 L97.0,32.6 L99.0,33.8 L101.0,35.1 L103.0,36.3 L105.0,37.6 L107.0,38.8 L109.0,40.1 L111.0,41.4 L113.0,42.8 L115.0,44.1 L117.0,45.5 L119.0,46.8 L121.0,48.2 L123.0,49.6 L125.0,51.0 L127.0,52.4 L129.0,53.8 L131.0,55.2 L133.0,56.6 L135.0,58.0 L137.0,59.5 L139.0,60.9 L141.0,62.3 L143.0,63.7 L145.0,65.1 L147.0,66.5 L149.0,67.9 L151.0,69.3 L153.0,70.7 L155.0,72.1 L157.0,73.5 L159.0,74.9 L161.0,76.3 L163.0,77.8 L165.0,79.2 L167.0,80.6 L169.0,82.1 L171.0,83.6 L173.0,85.0 L175.0,86.5 L177.0,88.0 L179.0,89.6 L181.0,91.1 L183.0,92.6 L185.0,94.2 L187.0,95.8 L189.0,97.4 L191.0,99.0 L193.0,100.6 L195.0,102.2 L197.0,103.8 L199.0,105.4 L201.0,107.1 L203.0,108.7 L205.0,110.3 L206.9,112.0 L208.9,113.6 L210.9,115.3 L212.9,117.0 L214.9,118.6 L216.9,120.3 L218.9,122.0 L220.9,123.6 L222.9,125.3 L224.9,127.0 L226.9,128.6 L228.9,130.3 L230.9,132.0 L232.9,133.6 L234.9,135.3 L236.9,136.9 L238.9,138.6 L240.9,140.2 L242.9,141.8 L244.9,143.5 L246.9,145.1 L248.9,146.7 L250.9,148.3 L252.9,149.9 L254.9,151.5 L256.9,153.1 L258.9,154.7 L260.9,156.3 L262.9,157.9 L264.9,159.4 L266.9,161.0 L268.9,162.6 L270.9,164.1 L272.9,165.7 L274.9,167.2 L276.9,168.7 L278.9,170.3 L280.9,171.8 L282.9,173.3 L284.9,174.9 L286.9,176.4 L288.9,177.9 L290.9,179.4 L292.9,180.9 L294.9,182.4 L296.9,183.8 L298.9,185.3 L300.9,186.8 L302.9,188.3 L304.9,189.7 L306.9,191.2 L308.9,192.6 L310.9,194.1 L312.9,195.5 L314.9,197.0 L316.9,198.4 L318.9,199.8 L320.9,201.3 L322.9,202.7 L324.9,204.1 L326.9,205.5 L328.9,206.9 L330.9,208.3 L332.9,209.7 L334.9,211.1 L336.9,212.5 L338.9,213.9 L340.9,215.2 L342.9,216.6 L344.9,218.0 L346.9,219.3 L348.9,220.7 L350.9,222.0 L352.9,223.4 L354.9,224.7 L356.9,226.0 L358.9,227.4 L360.9,228.7 L362.9,230.0 L364.9,231.3 L366.9,232.6 L368.9,234.0 L370.9,235.3 L372.9,236.6 L374.9,237.8 L376.9,239.1 L378.9,240.4 L380.9,241.7 L382.9,243.0 L384.9,244.2 L386.9,245.5 L388.9,246.8 L390.9,248.0 L392.9,249.3 L394.9,250.5 L396.9,251.8 L398.9,253.0 L400.9,254.2 L402.9,255.5 L404.9,256.7 L406.9,257.9 L408.9,259.1 L410.9,260.4 L412.9,261.6 L414.9,262.8 L416.9,264.0 L418.9,265.2 L420.9,266.4 L422.9,267.5 L424.9,268.7 L426.9,269.9 L428.9,271.1 L430.9,272.2 L432.9,273.4 L434.9,274.6 L436.9,275.7 L438.9,276.9 L440.9,278.0 L442.9,279.2 L444.9,280.3 L446.9,281.5 L448.9,282.6 L450.9,283.7 L452.9,284.8 L454.9,286.0 L456.9,287.1 L458.9,288.2 L460.9,289.3 L462.9,290.4 L464.9,291.5 L466.9,292.6 L468.9,293.7 L470.9,294.8 L472.9,295.9 L474.9,297.0 L476.9,298.0 L478.9,299.1 L480.9,300.2 L482.9,301.3 L484.9,302.3 L486.9,303.4 L488.9,304.4 L490.9,305.5 L492.9,306.5 L494.9,307.6 L496.9,308.6 L498.9,309.7 L500.9,310.7 L502.9,311.7 L504.9,312.8 L506.9,313.8 L508.9,314.8 L510.9,315.8 L512.9,316.8 L514.9,317.9 L516.9,318.9 L518.9,319.9 L520.9,320.9 L522.9,321.9 L524.9,322.8 L526.9,323.8 L528.9,324.8 L530.9,325.8 L532.8,326.8 L534.8,327.8 L536.8,328.7 L538.8,329.7 L540.8,330.7 L542.8,331.6 L544.8,332.6 L546.8,333.5 L548.8,334.5 L550.8,335.5 L552.8,336.4 L554.8,337.3 L556.8,338.3 L558.8,339.2 L560.8,340.2 L562.8,341.1 L564.8,342.0 L566.8,342.9 L568.8,343.9 L570.8,344.8 L572.8,345.7 L574.8,346.6 L576.8,347.5 L578.8,348.4 L580.8,349.3 L582.8,350.2 L584.8,351.1 L586.8,352.0 L588.8,352.9 L590.8,353.8 L592.8,354.7 L594.8,355.6 L596.8,356.5 L598.8,357.3 L600.8,358.2 L602.8,359.1 L604.8,359.9 L606.8,360.8 L608.8,361.7 L610.8,362.5 L612.8,363.4 L614.8,364.2 L616.8,365.1 L618.8,365.9 L620.8,366.8 L622.8,367.6 L624.8,368.5 L626.8,369.3 L628.8,370.1 L630.8,371.0 L632.8,371.8 L634.8,372.6 L636.8,373.4 L638.8,374.3 L640.8,375.1 L642.8,375.9 L644.8,376.7 L646.8,377.5 L648.8,378.3 L650.8,379.1 L652.8,379.9 L654.8,380.7 L656.8,381.5 L658.8,382.3 L660.8,383.1 L662.8,383.9 L664.8,384.6 L666.8,385.4 L668.8,386.2 L670.8,387.0 L672.8,387.7 L674.8,388.5 L676.8,389.3 L678.8,390.0 L680.8,390.8 L682.8,391.6 L684.8,392.3 L686.8,393.1 L688.8,393.8 L690.8,394.6 L692.8,395.3 L694.8,396.0 L696.8,396.8 L698.8,397.5 L700.8,398.3 L702.8,399.0 L704.8,399.7 L706.8,400.4 L708.8,401.2 L710.8,401.9 L712.8,402.6 L714.8,403.3 L716.8,404.0 L718.8,404.7 L720.8,405.4 L722.8,406.1 L724.8,406.8 L726.8,407.5 L728.8,408.2 L730.8,408.9 L732.8,409.6 L734.8,410.3 L736.8,411.0 L738.8,411.7 L740.8,412.4 L742.8,413.0 L744.8,413.7 L746.8,414.4 L748.8,415.1 L750.8,415.7 L752.8,416.4 L754.8,417.1 L756.8,417.7 L758.8,418.4 L760.8,419.0 L762.8,419.7 L764.8,420.3 L766.8,421.0 L768.8,421.6 L770.8,422.3 L772.8,422.9 L774.8,423.6 L776.8,424.2 L778.8,424.8 L780.8,425.5 L782.8,426.1 L784.8,426.7 L786.8,427.3 L788.8,428.0 L790.8,428.6 L792.8,429.2 L794.8,429.8 L796.8,430.4 L798.8,431.0 L800.8,431.6 L802.8,432.3 L804.8,432.9 L806.8,433.5 L808.8,434.1 L810.8,434.6 L812.8,435.2 L814.8,435.8 L816.8,436.4 L818.8,437.0 L820.8,437.6 L822.8,438.2 L824.8,438.8 L826.8,439.3 L828.8,439.9 L830.8,440.5 L832.8,441.0 L834.8,441.6 L836.8,442.2 L838.8,442.7 L840.8,443.3 L842.8,443.9 L844.8,444.4 L846.8,445.0 L848.8,445.5 L850.8,446.1 L852.8,446.6 L854.8,447.2 L856.8,447.7 L858.7,448.3 L860.7,448.8 L862.7,449.3 L864.7,449.9 L866.7,450.4 L868.7,450.9 L870.7,451.5 L872.7,452.0 L874.7,452.5 L876.7,453.0 L878.7,453.5 L880.7,454.1 L882.7,454.6 L884.7,455.1 L886.7,455.6 L888.7,456.1 L890.7,456.6 L892.7,457.1 L894.7,457.6 L896.7,458.1 L898.7,458.6 L900.7,459.1 L902.7,459.6 L904.7,460.1 L906.7,460.6 L908.7,461.1 L910.7,461.6 L912.7,462.1 L914.7,462.5 L916.7,463.0 L918.7,463.5 L920.7,464.0 L922.7,464.4 L924.7,464.9 L926.7,465.4 L928.7,465.9 L930.7,466.3 L932.7,466.8 L934.7,467.2 L936.7,467.7 L938.7,468.2 L940.7,468.6 L942.7,469.1 L944.7,469.5 L946.7,470.0 L948.7,470.4 L950.7,470.9 L952.7,471.3 L954.7,471.8 L956.7,472.2 L958.7,472.6 L960.7,473.1 L962.7,473.5 L964.7,473.9 L966.7,474.4 L968.7,474.8 L970.7,475.2 L972.7,475.7 L974.7,476.1 L976.7,476.5 L978.7,476.9 L980.7,477.3 L982.7,477.8 L984.7,478.2 L986.7,478.6 L988.7,479.0 L990.7,479.4 L992.7,479.8 L994.7,480.2 L996.7,480.6 L998.7,481.0 L1000.7,481.4 L1002.7,481.8 L1004.7,482.2 L1006.7,482.6 L1008.7,483.0 L1010.7,483.4 L1012.7,483.8 L1014.7,484.2 L1016.7,484.6 L1018.7,484.9 L1020.7,485.3 L1022.7,485.7 L1024.7,486.1 L1026.7,486.5 L1028.7,486.8 L1030.7,487.2 L1032.7,487.6 L1034.7,488.0 L1036.7,488.3 L1038.7,488.7 L1040.7,489.1 L1042.7,489.4 L1044.7,489.8 L1046.7,490.1 L1048.7,490.5 L1050.7,490.9 L1052.7,491.2 L1054.7,491.6 L1056.7,491.9 L1058.7,492.3 L1060.7,492.6 L1062.7,493.0 L1064.7,493.3 L1066.7,493.7 L1068.7,494.0 L1070.7,494.3 L1072.7,494.7 L1074.7,495.0 L1076.7,495.4 L1078.7,495.7 L1080.7,496.0 L1082.7,496.4 L1084.7,496.7 L1086.7,497.0 L1088.7,497.3 L1090.7,497.7 L1092.7,498.0 L1094.7,498.3 L1096.7,498.6 L1098.7,499.0 L1100.7,499.3 L1102.7,499.6 L1104.7,499.9 L1106.7,500.2 L1108.7,500.5 L1110.7,500.8 L1112.7,501.2 L1114.7,501.5 L1116.7,501.8 L1118.7,502.1 L1120.7,502.4 L1122.7,502.7 L1124.7,503.0 L1126.7,503.3 L1128.7,503.6 L1130.7,503.9 L1132.7,504.2 L1134.7,504.5 L1136.7,504.8 L1138.7,505.1 L1140.7,505.3 L1142.7,505.6 L1144.7,505.9 L1146.7,506.2 L1148.7,506.5 L1150.7,506.8 L1152.7,507.1 L1154.7,507.3 L1156.7,507.6 L1158.7,507.9 L1160.7,508.2 L1162.7,508.4 L1164.7,508.7 L1166.7,509.0 L1168.7,509.3 L1170.7,509.5 L1172.7,509.8 L1174.7,510.1 L1176.7,510.3 L1178.7,510.6 L1180.7,510.9 L1182.7,511.1 L1184.6,511.4 L1186.6,511.6 L1188.6,511.9 L1190.6,512.2 L1192.6,512.4 L1194.6,512.7 L1196.6,512.9 L1198.6,513.2 L1200.6,513.4 L1202.6,513.7 L1204.6,513.9 L1206.6,514.2 L1208.6,514.4 L1210.6,514.7 L1212.6,514.9 L1214.6,515.2 L1216.6,515.4 L1218.6,515.6 L1220.6,515.9 L1222.6,516.1 L1224.6,516.4 L1226.6,516.6 L1228.6,516.8 L1230.6,517.1 L1232.6,517.3 L1234.6,517.5 L1236.6,517.8 L1238.6,518.0 L1240.6,518.2 L1242.6,518.5 L1244.6,518.7 L1246.6,518.9 L1248.6,519.1 L1250.6,519.4 L1252.6,519.6 L1254.6,519.8 L1256.6,520.0 L1258.6,520.2 L1260.6,520.5 L1262.6,520.7 L1264.6,520.9 L1266.6,521.1 L1268.6,521.3 L1270.6,521.5 L1272.6,521.7 L1274.6,522.0 L1276.6,522.2 L1278.6,522.4 L1280.6,522.6 L1282.6,522.8 L1284.6,523.0 L1286.6,523.2 L1288.6,523.4 L1290.6,523.6 L1292.6,523.8 L1294.6,524.0 L1296.6,524.2 L1298.6,524.4 L1300.6,524.6 L1302.6,524.8 L1304.6,525.0 L1306.6,525.2 L1308.6,525.4 L1310.6,525.6 L1312.6,525.8 L1314.6,526.0 L1316.6,526.2 L1318.6,526.4 L1320.6,526.6 L1322.6,526.8 L1324.6,526.9 L1326.6,527.1 L1328.6,527.3 L1330.6,527.5 L1332.6,527.7 L1334.6,527.9 L1336.6,528.1 L1338.6,528.2 L1340.6,528.4 L1342.6,528.6 L1344.6,528.8 L1346.6,529.0" stroke="#c8aa00"/>
<path d="M43.0,4.0 L45.0,5.0 L47.0,5.9 L49.0,6.9 L51.0,7.9 L53.0,8.9 L55.0,9.9 L57.0,10.9 L59.0,12.0 L61.0,13.0 L63.0,14.1 L65.0,15.1 L67.0,16.2 L69.0,17.3 L71.0,18.4 L73.0,19.5 L75.0,20.7 L77.0,21.8 L79.0,23.0 L81.0,24.1 L83.0,25.3 L85.0,26.5 L87.0,27.7 L89.0,28.9 L91.0,30.2 L93.0,31.4 L95.0,32.7 L97.0,33.9 L99.0,35.2 L101.0,36.5 L103.0,37.8 L105.0,39.1 L107.0,40.5 L109.0,41.8 L111.0,43.2 L113.0,44.6 L115.0,45.9 L117.0,47.3 L119.0,48.8 L121.0,50.2 L123.0,51.6 L125.0,53.0 L127.0,54.5 L129.0,55.9 L131.0,57.4 L133.0,58.9 L135.0,60.3 L137.0,61.8 L139.0,63.3 L141.0,64.8 L143.0,66.2 L145.0,67.7 L147.0,69.2 L149.0,70.7 L151.0,72.2 L153.0,73.8 L155.0,75.3 L157.0,76.8 L159.0,78.4 L161.0,79.9 L163.0,81.5 L165.0,83.1 L167.0,84.7 L169.0,86.3 L171.0,87.9 L173.0,89.5 L175.0,91.2 L177.0,92.9 L179.0,94.6 L181.0,96.3 L183.0,98.0 L185.0,99.7 L187.0,101.5 L189.0,103.2 L191.0,105.0 L193.0,106.8 L195.0,108.5 L197.0,110.3 L199.0,112.1 L201.0,113.9 L203.0,115.8 L205.0,117.6 L206.9,119.4 L208.9,121.2 L210.9,123.1 L212.9,124.9 L214.9,126.7 L216.9,128.6 L218.9,130.4 L220.9,132.2 L222.9,134.0 L224.9,135.9 L226.9,137.7 L228.9,139.5 L230.9,141.3 L232.9,143.1 L234.9,144.9 L236.9,146.7 L238.9,148.5 L240.9,150.3 L242.9,152.0 L244.9,153.8 L246.9,155.5 L248.9,157.2 L250.9,159.0 L252.9,160.7 L254.9,162.4 L256.9,164.1 L258.9,165.8 L260.9,167.5 L262.9,169.2 L264.9,170.8 L266.9,172.5 L268.9,174.1 L270.9,175.8 L272.9,177.4 L274.9,179.0 L276.9,180.7 L278.9,182.3 L280.9,183.9 L282.9,185.5 L284.9,187.1 L286.9,188.7 L288.9,190.3 L290.9,191.9 L292.9,193.4 L294.9,195.0 L296.9,196.5 L298.9,198.1 L300.9,199.7 L302.9,201.2 L304.9,202.7 L306.9,204.3 L308.9,205.8 L310.9,207.3 L312.9,208.8 L314.9,210.3 L316.9,211.9 L318.9,213.4 L320.9,214.9 L322.9,216.4 L324.9,217.8 L326.9,219.3 L328.9,220.8 L330.9,222.3 L332.9,223.8 L334.9,225.2 L336.9,226.7 L338.9,228.2 L340.9,229.6 L342.9,231.1 L344.9,232.6 L346.9,234.0 L348.9,235.5 L350.9,236.9 L352.9,238.4 L354.9,239.8 L356.9,241.3 L358.9,242.7 L360.9,244.1 L362.9,245.6 L364.9,247.0 L366.9,248.5 L368.9,249.9 L370.9,251.3 L372.9,252.8 L374.9,254.2 L376.9,255.6 L378.9,257.0 L380.9,258.5 L382.9,259.9 L384.9,261.3 L386.9,262.7 L388.9,264.1 L390.9,265.6 L392.9,267.0 L394.9,268.4 L396.9,269.8 L398.9,271.2 L400.9,272.6 L402.9,274.0 L404.9,275.4 L406.9,276.7 L408.9,278.1 L410.9,279.5 L412.9,280.9 L414.9,282.2 L416.9,283.6 L418.9,284.9 L420.9,286.3 L422.9,287.6 L424.9,289.0 L426.9,290.3 L428.9,291.6 L430.9,293.0 L432.9,294.3 L434.9,295.6 L436.9,296.9 L438.9,298.2 L440.9,299.5 L442.9,300.7 L444.9,302.0 L446.9,303.3 L448.9,304.5 L450.9,305.8 L452.9,307.1 L454.9,308.3 L456.9,309.5 L458.9,310.8 L460.9,312.0 L462.9,313.2 L464.9,314.4 L466.9,315.6 L468.9,316.8 L470.9,318.0 L472.9,319.2 L474.9,320.4 L476.9,321.6 L478.9,322.7 L480.9,323.9 L482.9,325.1 L484.9,326.2 L486.9,327.4 L488.9,328.5 L490.9,329.7 L492.9,330.8 L494.9,331.9 L496.9,333.0 L498.9,334.2 L500.9,335.3 L502.9,336.4 L504.9,337.5 L506.9,338.6 L508.9,339.7 L510.9,340.8 L512.9,341.8 L514.9,342.9 L516.9,344.0 L518.9,345.1 L520.9,346.1 L522.9,347.2 L524.9,348.2 L526.9,349.3 L528.9,350.3 L530.9,351.4 L532.8,352.4 L534.8,353.4 L536.8,354.5 L538.8,355.5 L540.8,356.5 L542.8,357.5 L544.8,358.5 L546.8,359.5 L548.8,360.6 L550.8,361.6 L552.8,362.5 L554.8,363.5 L556.8,364.5 L558.8,365.5 L560.8,366.5 L562.8,367.5 L564.8,368.4 L566.8,369.4 L568.8,370.4 L570.8,371.3 L572.8,372.3 L574.8,373.3 L576.8,374.2 L578.8,375.2 L580.8,376.1 L582.8,377.0 L584.8,378.0 L586.8,378.9 L588.8,379.9 L590.8,380.8 L592.8,381.7 L594.8,382.6 L596.8,383.5 L598.8,384.5 L600.8,385.4 L602.8,386.3 L604.8,387.2 L606.8,388.1 L608.8,389.0 L610.8,389.9 L612.8,390.8 L614.8,391.6 L616.8,392.5 L618.8,393.4 L620.8,394.3 L622.8,395.2 L624.8,396.0 L626.8,396.9 L628.8,397.8 L630.8,398.6 L632.8,399.5 L634.8,400.3 L636.8,401.2 L638.8,402.0 L640.8,402.9 L642.8,403.7 L644.8,404.5 L646.8,405.4 L648.8,406.2 L650.8,407.0 L652.8,407.9 L654.8,408.7 L656.8,409.5 L658.8,410.3 L660.8,411.1 L662.8,411.9 L664.8,412.7 L666.8,413.5 L668.8,414.3 L670.8,415.1 L672.8,415.9 L674.8,416.7 L676.8,417.5 L678.8,418.3 L680.8,419.1 L682.8,419.8 L684.8,420.6 L686.8,421.4 L688.8,422.1 L690.8,422.9 L692.8,423.7 L694.8,424.4 L696.8,425.2 L698.8,425.9 L700.8,426.7 L702.8,427.4 L704.8,428.2 L706.8,428.9 L708.8,429.6 L710.8,430.4 L712.8,431.1 L714.8,431.8 L716.8,432.6 L718.8,433.3 L720.8,434.0 L722.8,434.7 L724.8,435.4 L726.8,436.1 L728.8,436.8 L730.8,437.5 L732.8,438.2 L734.8,438.9 L736.8,439.6 L738.8,440.3 L740.8,441.0 L742.8,441.7 L744.8,442.4 L746.8,443.1 L748.8,443.7 L750.8,444.4 L752.8,445.1 L754.8,445.8 L756.8,446.4 L758.8,447.1 L760.8,447.7 L762.8,448.4 L764.8,449.1 L766.8,449.7 L768.8,450.4 L770.8,451.0 L772.8,451.6 L774.8,452.3 L776.8,452.9 L778.8,453.6 L780.8,454.2 L782.8,454.8 L784.8,455.4 L786.8,456.1 L788.8,456.7 L790.8,457.3 L792.8,457.9 L794.8,458.5 L796.8,459.1 L798.8,459.7 L800.8,460.4 L802.8,461.0 L804.8,461.6 L806.8,462.2 L808.8,462.7 L810.8,463.3 L812.8,463.9 L814.8,464.5 L816.8,465.1 L818.8,465.7 L820.8,466.3 L822.8,466.8 L824.8,467.4 L826.8,468.0 L828.8,468.5 L830.8,469.1 L832.8,469.7 L834.8,470.2 L836.8,470.8 L838.8,471.3 L840.8,471.9 L842.8,472.4 L844.8,473.0 L846.8,473.5 L848.8,474.1 L850.8,474.6 L852.8,475.2 L854.8,475.7 L856.8,476.2 L858.7,476.8 L860.7,477.3 L862.7,477.8 L864.7,478.3 L866.7,478.8 L868.7,479.4 L870.7,479.9 L872.7,480.4 L874.7,480.9 L876.7,481.4 L878.7,481.9 L880.7,482.4 L882.7,482.9 L884.7,483.4 L886.7,483.9 L888.7,484.4 L890.7,484.9 L892.7,485.4 L894.7,485.9 L896.7,486.4 L898.7,486.8 L900.7,487.3 L902.7,487.8 L904.7,488.3 L906.7,488.7 L908.7,489.2 L910.7,489.7 L912.7,490.1 L914.7,490.6 L916.7,491.1 L918.7,491.5 L920.7,492.0 L922.7,492.4 L924.7,492.9 L926.7,493.3 L928.7,493.8 L930.7,494.2 L932.7,494.7 L934.7,495.1 L936.7,495.6 L938.7,496.0 L940.7,496.4 L942.7,496.9 L944.7,497.3 L946.7,497.7 L948.7,498.1 L950.7,498.6 L952.7,499.0 L954.7,499.4 L956.7,499.8 L958.7,500.2 L960.7,500.7 L962.7,501.1 L964.7,501.5 L966.7,501.9 L968.7,502.3 L970.7,502.7 L972.7,503.1 L974.7,503.5 L976.7,503.9 L978.7,504.3 L980.7,504.7 L982.7,505.1 L984.7,505.4 L986.7,505.8 L988.7,506.2 L990.7,506.6 L992.7,507.0 L994.7,507.4 L996.7,507.7 L998.7,508.1 L1000.7,508.5 L1002.7,508.9 L1004.7,509.2 L1006.7,509.6 L1008.7,510.0 L1010.7,510.3 L1012.7,510.7 L1014.7,511.0 L1016.7,511.4 L1018.7,511.8 L1020.7,512.1 L1022.7,512.5 L1024.7,512.8 L1026.7,513.2 L1028.7,513.5 L1030.7,513.8 L1032.7,514.2 L1034.7,514.5 L1036.7,514.9 L1038.7,515.2 L1040.7,515.5 L1042.7,515.9 L1044.7,516.2 L1046.7,516.5 L1048.7,516.9 L1050.7,517.2 L1052.7,517.5 L1054.7,517.8 L1056.7,518.2 L1058.7,518.5 L1060.7,518.8 L1062.7,519.1 L1064.7,519.4 L1066.7,519.7 L1068.7,520.0 L1070.7,520.4 L1072.7,520.7 L1074.7,521.0 L1076.7,521.3 L1078.7,521.6 L1080.7,521.9 L1082.7,522.2 L1084.7,522.5 L1086.7,522.8 L1088.7,523.1 L1090.7,523.4 L1092.7,523.6 L1094.7,523.9 L1096.7,524.2 L1098.7,524.5 L1100.7,524.8 L1102.7,525.1 L1104.7,525.4 L1106.7,525.6 L1108.7,525.9 L1110.7,526.2 L1112.7,526.5 L1114.7,526.7 L1116.7,527.0 L1118.7,527.3 L1120.7,527.5 L1122.7,527.8 L1124.7,528.1 L1126.7,528.3 L1128.7,528.6 L1130.7,528.9 L1132.7,529.1 L1134.7,529.4 L1136.7,529.6 L1138.7,529.9 L1140.7,530.2 L1142.7,530.4 L1144.7,530.7 L1146.7,530.9 L1148.7,531.2 L1150.7,531.4 L1152.7,531.7 L1154.7,531.9 L1156.7,532.1 L1158.7,532.4 L1160.7,532.6 L1162.7,532.9 L1164.7,533.1 L1166.7,533.3 L1168.7,533.6 L1170.7,533.8 L1172.7,534.0 L1174.7,534.3 L1176.7,534.5 L1178.7,534.7 L1180.7,535.0 L1182.7,535.2 L1184.6,535.4 L1186.6,535.6 L1188.6,535.8 L1190.6,536.1 L1192.6,536.3 L1194.6,536.5 L1196.6,536.7 L1198.6,536.9 L1200.6,537.2 L1202.6,537.4 L1204.6,537.6 L1206.6,537.8 L1208.6,538.0 L1210.6,538.2 L1212.6,538.4 L1214.6,538.6 L1216.6,538.8 L1218.6,539.0 L1220.6,539.2 L1222.6,539.4 L1224.6,539.6 L1226.6,539.8 L1228.6,540.0 L1230.6,540.2 L1232.6,540.4 L1234.6,540.6 L1236.6,540.8 L1238.6,541.0 L1240.6,541.2 L1242.6,541.4 L1244.6,541.6 L1246.6,541.8 L1248.6,542.0 L1250.6,542.1 L1252.6,542.3 L1254.6,542.5 L1256.6,542.7 L1258.6,542.9 L1260.6,543.1 L1262.6,543.2 L1264.6,543.4 L1266.6,543.6 L1268.6,543.8 L1270.6,544.0 L1272.6,544.1 L1274.6,544.3 L1276.6,544.5 L1278.6,544.7 L1280.6,544.8 L1282.6,545.0 L1284.6,545.2 L1286.6,545.3 L1288.6,545.5 L1290.6,545.7 L1292.6,545.8 L1294.6,546.0 L1296.6,546.2 L1298.6,546.3 L1300.6,546.5 L1302.6,546.6 L1304.6,546.6 L1306.6,546.7 L1308.6,546.7 L1310.6,546.7 L1312.6,546.8 L1314.6,546.8 L1316.6,546.8 L1318.6,546.9 L1320.6,546.9 L1322.6,546.9 L1324.6,546.9 L1326.6,547.0 L1328.6,547.0 L1330.6,547.0 L1332.6,547.1 L1334.6,547.1 L1336.6,547.1 L1338.6,547.2 L1340.6,547.2 L1342.6,547.2 L1344.6,547.3 L1346.6,547.3" stroke="#c800c8"/>
<path d="M43.0,4.0 L45.0,4.9 L47.0,5.9 L49.0,6.9 L51.0,7.9 L53.0,8.9 L55.0,9.9 L57.0,10.9 L59.0,12.0 L61.0,13.1 L63.0,14.2 L65.0,15.3 L67.0,16.4 L69.0,17.5 L71.0,18.7 L73.0,19.9 L75.0,21.0 L77.0,22.2 L79.0,23.5 L81.0,24.7 L83.0,25.9 L85.0,27.2 L87.0,28.5 L89.0,29.8 L91.0,31.1 L93.0,32.4 L95.0,33.7 L97.0,35.1 L99.0,36.4 L101.0,37.8 L103.0,39.2 L105.0,40.6 L107.0,42.0 L109.0,43.5 L111.0,44.9 L113.0,46.4 L115.0,47.8 L117.0,49.3 L119.0,50.8 L121.0,52.3 L123.0,53.9 L125.0,55.4 L127.0,56.9 L129.0,58.5 L131.0,60.1 L133.0,61.7 L135.0,63.3 L137.0,64.9 L139.0,66.5 L141.0,68.1 L143.0,69.8 L145.0,71.5 L147.0,73.1 L149.0,74.8 L151.0,76.5 L153.0,78.2 L155.0,79.9 L157.0,81.6 L159.0,83.4 L161.0,85.1 L163.0,86.9 L165.0,88.7 L167.0,90.4 L169.0,92.2 L171.0,94.0 L173.0,95.8 L175.0,97.7 L177.0,99.5 L179.0,101.3 L181.0,103.2 L183.0,105.0 L185.0,106.9 L187.0,108.8 L189.0,110.7 L191.0,112.6 L193.0,114.4 L195.0,116.3 L197.0,118.2 L199.0,120.1 L201.0,122.1 L203.0,124.0 L205.0,125.9 L206.9,127.8 L208.9,129.7 L210.9,131.6 L212.9,133.6 L214.9,135.5 L216.9,137.4 L218.9,139.3 L220.9,141.3 L222.9,143.2 L224.9,145.1 L226.9,147.0 L228.9,148.9 L230.9,150.8 L232.9,152.7 L234.9,154.7 L236.9,156.5 L238.9,158.4 L240.9,160.3 L242.9,162.2 L244.9,164.1 L246.9,165.9 L248.9,167.8 L250.9,169.7 L252.9,171.5 L254.9,173.4 L256.9,175.2 L258.9,177.0 L260.9,178.9 L262.9,180.7 L264.9,182.5 L266.9,184.3 L268.9,186.1 L270.9,187.9 L272.9,189.7 L274.9,191.5 L276.9,193.3 L278.9,195.1 L280.9,196.8 L282.9,198.6 L284.9,200.4 L286.9,202.1 L288.9,203.9 L290.9,205.6 L292.9,207.4 L294.9,209.1 L296.9,210.8 L298.9,212.5 L300.9,214.3 L302.9,216.0 L304.9,217.7 L306.9,219.4 L308.9,221.1 L310.9,222.8 L312.9,224.4 L314.9,226.1 L316.9,227.8 L318.9,229.4 L320.9,231.1 L322.9,232.8 L324.9,234.4 L326.9,236.1 L328.9,237.7 L330.9,239.3 L332.9,241.0 L334.9,242.6 L336.9,244.2 L338.9,245.8 L340.9,247.4 L342.9,249.0 L344.9,250.6 L346.9,252.2 L348.9,253.8 L350.9,255.4 L352.9,256.9 L354.9,258.5 L356.9,260.1 L358.9,261.6 L360.9,263.2 L362.9,264.7 L364.9,266.3 L366.9,267.8 L368.9,269.3 L370.9,270.8 L372.9,272.4 L374.9,273.9 L376.9,275.4 L378.9,276.9 L380.9,278.4 L382.9,279.9 L384.9,281.4 L386.9,282.8 L388.9,284.3 L390.9,285.8 L392.9,287.2 L394.9,288.7 L396.9,290.2 L398.9,291.6 L400.9,293.1 L402.9,294.5 L404.9,295.9 L406.9,297.3 L408.9,298.8 L410.9,300.2 L412.9,301.6 L414.9,303.0 L416.9,304.4 L418.9,305.8 L420.9,307.2 L422.9,308.6 L424.9,310.0 L426.9,311.3 L428.9,312.7 L430.9,314.1 L432.9,315.4 L434.9,316.8 L436.9,318.1 L438.9,319.5 L440.9,320.8 L442.9,322.1 L444.9,323.5 L446.9,324.8 L448.9,326.1 L450.9,327.4 L452.9,328.7 L454.9,330.0 L456.9,331.3 L458.9,332.6 L460.9,333.9 L462.9,335.2 L464.9,336.5 L466.9,337.7 L468.9,339.0 L470.9,340.3 L472.9,341.5 L474.9,342.8 L476.9,344.0 L478.9,345.2 L480.9,346.5 L482.9,347.7 L484.9,348.9 L486.9,350.2 L488.9,351.4 L490.9,352.6 L492.9,353.8 L494.9,355.0 L496.9,356.2 L498.9,357.4 L500.9,358.6 L502.9,359.7 L504.9,360.9 L506.9,362.1 L508.9,363.2 L510.9,364.4 L512.9,365.5 L514.9,366.7 L516.9,367.8 L518.9,369.0 L520.9,370.1 L522.9,371.2 L524.9,372.4 L526.9,373.5 L528.9,374.6 L530.9,375.7 L532.8,376.8 L534.8,377.9 L536.8,379.0 L538.8,380.1 L540.8,381.2 L542.8,382.3 L544.8,383.3 L546.8,384.4 L548.8,385.5 L550.8,386.5 L552.8,387.6 L554.8,388.7 L556.8,389.7 L558.8,390.7 L560.8,391.8 L562.8,392.8 L564.8,393.9 L566.8,394.9 L568.8,395.9 L570.8,396.9 L572.8,397.9 L574.8,398.9 L576.8,399.9 L578.8,400.9 L580.8,401.9 L582.8,402.9 L584.8,403.9 L586.8,404.9 L588.8,405.9 L590.8,406.8 L592.8,407.8 L594.8,408.8 L596.8,409.7 L598.8,410.7 L600.8,411.6 L602.8,412.6 L604.8,413.5 L606.8,414.4 L608.8,415.4 L610.8,416.3 L612.8,417.2 L614.8,418.1 L616.8,419.1 L618.8,420.0 L620.8,420.9 L622.8,421.8 L624.8,422.7 L626.8,423.6 L628.8,424.5 L630.8,425.4 L632.8,426.2 L634.8,427.1 L636.8,428.0 L638.8,428.9 L640.8,429.7 L642.8,430.6 L644.8,431.4 L646.8,432.3 L648.8,433.2 L650.8,434.0 L652.8,434.8 L654.8,435.7 L656.8,436.5 L658.8,437.3 L660.8,438.2 L662.8,439.0 L664.8,439.8 L666.8,440.6 L668.8,441.4 L670.8,442.3 L672.8,443.1 L674.8,443.9 L676.8,444.7 L678.8,445.4 L680.8,446.2 L682.8,447.0 L684.8,447.8 L686.8,448.6 L688.8,449.4 L690.8,450.1 L692.8,450.9 L694.8,451.7 L696.8,452.4 L698.8,453.2 L700.8,453.9 L702.8,454.7 L704.8,455.4 L706.8,456.2 L708.8,456.9 L710.8,457.6 L712.8,458.4 L714.8,459.1 L716.8,459.8 L718.8,460.5 L720.8,461.3 L722.8,462.0 L724.8,462.7 L726.8,463.4 L728.8,464.1 L730.8,464.8 L732.8,465.5 L734.8,466.2 L736.8,466.9 L738.8,467.6 L740.8,468.3 L742.8,468.9 L744.8,469.6 L746.8,470.3 L748.8,471.0 L750.8,471.6 L752.8,472.3 L754.8,473.0 L756.8,473.6 L758.8,474.3 L760.8,474.9 L762.8,475.6 L764.8,476.2 L766.8,476.9 L768.8,477.5 L770.8,478.1 L772.8,478.8 L774.8,479.4 L776.8,480.0 L778.8,480.7 L780.8,481.3 L782.8,481.9 L784.8,482.5 L786.8,483.1 L788.8,483.7 L790.8,484.3 L792.8,484.9 L794.8,485.5 L796.8,486.1 L798.8,486.7 L800.8,487.3 L802.8,487.9 L804.8,488.5 L806.8,489.1 L808.8,489.7 L810.8,490.3 L812.8,490.8 L814.8,491.4 L816.8,492.0 L818.8,492.5 L820.8,493.1 L822.8,493.7 L824.8,494.2 L826.8,494.8 L828.8,495.4 L830.8,495.9 L832.8,496.5 L834.8,497.0 L836.8,497.5 L838.8,498.1 L840.8,498.6 L842.8,499.2 L844.8,499.7 L846.8,500.2 L848.8,500.8 L850.8,501.3 L852.8,501.8 L854.8,502.3 L856.8,502.9 L858.7,503.4 L860.7,503.9 L862.7,504.4 L864.7,504.9 L866.7,505.4 L868.7,505.9 L870.7,506.4 L872.7,506.9 L874.7,507.4 L876.7,507.9 L878.7,508.4 L880.7,508.9 L882.7,509.4 L884.7,509.9 L886.7,510.4 L888.7,510.9 L890.7,511.3 L892.7,511.8 L894.7,512.3 L896.7,512.8 L898.7,513.2 L900.7,513.7 L902.7,514.2 L904.7,514.6 L906.7,515.1 L908.7,515.6 L910.7,516.0 L912.7,516.5 L914.7,517.0 L916.7,517.4 L918.7,517.9 L920.7,518.3 L922.7,518.8 L924.7,519.2 L926.7,519.6 L928.7,520.1 L930.7,520.5 L932.7,521.0 L934.7,521.4 L936.7,521.8 L938.7,522.3 L940.7,522.7 L942.7,523.1 L944.7,523.6 L946.7,524.0 L948.7,524.4 L950.7,524.8 L952.7,525.3 L954.7,525.7 L956.7,526.1 L958.7,526.5 L960.7,526.9 L962.7,527.4 L964.7,527.8 L966.7,528.2 L968.7,528.6 L970.7,529.0 L972.7,529.4 L974.7,529.8 L976.7,530.2 L978.7,530.6 L980.7,531.0 L982.7,531.4 L984.7,531.8 L986.7,532.2 L988.7,532.6 L990.7,533.0 L992.7,533.4 L994.7,533.8 L996.7,534.1 L998.7,534.5 L1000.7,534.9 L1002.7,535.3 L1004.7,535.7 L1006.7,536.1 L1008.7,536.4 L1010.7,536.8 L1012.7,537.2 L1014.7,537.6 L1016.7,538.0 L1018.7,538.3 L1020.7,538.7 L1022.7,539.1 L1024.7,539.4 L1026.7,539.8 L1028.7,540.0 L1030.7,540.1 L1032.7,540.2 L1034.7,540.2 L1036.7,540.3 L1038.7,540.4 L1040.7,540.4 L1042.7,540.5 L1044.7,540.6 L1046.7,540.6 L1048.7,540.7 L1050.7,540.7 L1052.7,540.8 L1054.7,540.9 L1056.7,540.9 L1058.7,541.0 L1060.7,541.1 L1062.7,541.1 L1064.7,541.2 L1066.7,541.2 L1068.7,541.3 L1070.7,541.4 L1072.7,541.4 L1074.7,541.5 L1076.7,541.5 L1078.7,541.6 L1080.7,541.7 L1082.7,541.7 L1084.7,541.8 L1086.7,541.8 L1088.7,541.9 L1090.7,541.9 L1092.7,542.0 L1094.7,542.1 L1096.7,542.1 L1098.7,542.2 L1100.7,542.2 L1102.7,542.3 L1104.7,542.3 L1106.7,542.4 L1108.7,542.4 L1110.7,542.5 L1112.7,542.6 L1114.7,542.6 L1116.7,542.7 L1118.7,542.7 L1120.7,542.8 L1122.7,542.8 L1124.7,542.9 L1126.7,542.9 L1128.7,543.0 L1130.7,543.0 L1132.7,543.1 L1134.7,543.1 L1136.7,543.2 L1138.7,543.2 L1140.7,543.3 L1142.7,543.3 L1144.7,543.4 L1146.7,543.4 L1148.7,543.5 L1150.7,543.5 L1152.7,543.6 L1154.7,543.6 L1156.7,543.7 L1158.7,543.7 L1160.7,543.8 L1162.7,543.8 L1164.7,543.9 L1166.7,543.9 L1168.7,544.0 L1170.7,544.0 L1172.7,544.0 L1174.7,544.1 L1176.7,544.1 L1178.7,544.2 L1180.7,544.2 L1182.7,544.3 L1184.6,544.3 L1186.6,544.4 L1188.6,544.4 L1190.6,544.5 L1192.6,544.5 L1194.6,544.5 L1196.6,544.6 L1198.6,544.6 L1200.6,544.7 L1202.6,544.7 L1204.6,544.8 L1206.6,544.8 L1208.6,544.8 L1210.6,544.9 L1212.6,544.9 L1214.6,545.0 L1216.6,545.0 L1218.6,545.0 L1220.6,545.1 L1222.6,545.1 L1224.6,545.2 L1226.6,545.2 L1228.6,545.3 L1230.6,545.3 L1232.6,545.3 L1234.6,545.4 L1236.6,545.4 L1238.6,545.4 L1240.6,545.5 L1242.6,545.5 L1244.6,545.6 L1246.6,545.6 L1248.6,545.6 L1250.6,545.7 L1252.6,545.7 L1254.6,545.8 L1256.6,545.8 L1258.6,545.8 L1260.6,545.9 L1262.6,545.9 L1264.6,545.9 L1266.6,546.0 L1268.6,546.0 L1270.6,546.0 L1272.6,546.1 L1274.6,546.1 L1276.6,546.2 L1278.6,546.2 L1280.6,546.2 L1282.6,546.3 L1284.6,546.3 L1286.6,546.3 L1288.6,546.4 L1290.6,546.4 L1292.6,546.4 L1294.6,546.5 L1296.6,546.5 L1298.6,546.5 L1300.6,546.6 L1302.6,546.6 L1304.6,546.6 L1306.6,546.7 L1308.6,546.7 L1310.6,546.7 L1312.6,546.8 L1314.6,546.8 L1316.6,546.8 L1318.6,546.9 L1320.6,546.9 L1322.6,546.9 L1324.6,546.9 L1326.6,547.0 L1328.6,547.0 L1330.6,547.0 L1332.6,547.1 L1334.6,547.1 L1336.6,547.1 L1338.6,547.2 L1340.6,547.2 L1342.6,547.2 L1344.6,547.3 L1346.6,547.3" stroke="#00a4c4"/>
<path d="M43.0,4.0 L45.0,4.9 L47.0,5.9 L49.0,6.9 L51.0,7.9 L53.0,8.9 L55.0,9.9 L57.0,11.0 L59.0,12.1 L61.0,13.2 L63.0,14.3 L65.0,15.4 L67.0,16.6 L69.0,17.7 L71.0,18.9 L73.0,20.1 L75.0,21.4 L77.0,22.6 L79.0,23.9 L81.0,25.1 L83.0,26.4 L85.0,27.8 L87.0,29.1 L89.0,30.4 L91.0,31.8 L93.0,33.2 L95.0,34.6 L97.0,36.0 L99.0,37.5 L101.0,38.9 L103.0,40.4 L105.0,41.9 L107.0,43.4 L109.0,44.9 L111.0,46.4 L113.0,48.0 L115.0,49.5 L117.0,51.1 L119.0,52.7 L121.0,54.3 L123.0,56.0 L125.0,57.6 L127.0,59.3 L129.0,60.9 L131.0,62.6 L133.0,64.3 L135.0,66.0 L137.0,67.7 L139.0,69.5 L141.0,71.2 L143.0,73.0 L145.0,74.8 L147.0,76.5 L149.0,78.3 L151.0,80.2 L153.0,82.0 L155.0,83.8 L157.0,85.6 L159.0,87.5 L161.0,89.4 L163.0,91.2 L165.0,93.1 L167.0,95.0 L169.0,96.9 L171.0,98.8 L173.0,100.7 L175.0,102.7 L177.0,104.6 L179.0,106.5 L181.0,108.5 L183.0,110.4 L185.0,112.4 L187.0,114.4 L189.0,116.4 L191.0,118.3 L193.0,120.3 L195.0,122.3 L197.0,124.3 L199.0,126.3 L201.0,128.3 L203.0,130.4 L205.0,132.4 L206.9,134.4 L208.9,136.4 L210.9,138.5 L212.9,140.5 L214.9,142.5 L216.9,144.6 L218.9,146.6 L220.9,148.7 L222.9,150.7 L224.9,152.8 L226.9,154.8 L228.9,156.9 L230.9,158.9 L232.9,161.0 L234.9,163.0 L236.9,165.1 L238.9,167.1 L240.9,169.2 L242.9,171.2 L244.9,173.3 L246.9,175.3 L248.9,177.4 L250.9,179.4 L252.9,181.5 L254.9,183.5 L256.9,185.6 L258.9,187.6 L260.9,189.6 L262.9,191.7 L264.9,193.7 L266.9,195.7 L268.9,197.7 L270.9,199.7 L272.9,201.7 L274.9,203.7 L276.9,205.7 L278.9,207.7 L280.9,209.7 L282.9,211.7 L284.9,213.6 L286.9,215.6 L288.9,217.6 L290.9,219.5 L292.9,221.5 L294.9,223.4 L296.9,225.3 L298.9,227.2 L300.9,229.1 L302.9,231.0 L304.9,232.9 L306.9,234.8 L308.9,236.7 L310.9,238.5 L312.9,240.4 L314.9,242.2 L316.9,244.1 L318.9,245.9 L320.9,247.7 L322.9,249.5 L324.9,251.3 L326.9,253.1 L328.9,254.9 L330.9,256.6 L332.9,258.4 L334.9,260.1 L336.9,261.9 L338.9,263.6 L340.9,265.3 L342.9,267.1 L344.9,268.8 L346.9,270.5 L348.9,272.2 L350.9,273.9 L352.9,275.5 L354.9,277.2 L356.9,278.9 L358.9,280.5 L360.9,282.2 L362.9,283.8 L364.9,285.4 L366.9,287.1 L368.9,288.7 L370.9,290.3 L372.9,291.9 L374.9,293.5 L376.9,295.1 L378.9,296.7 L380.9,298.2 L382.9,299.8 L384.9,301.4 L386.9,302.9 L388.9,304.5 L390.9,306.0 L392.9,307.5 L394.9,309.0 L396.9,310.6 L398.9,312.1 L400.9,313.6 L402.9,315.1 L404.9,316.6 L406.9,318.1 L408.9,319.5 L410.9,321.0 L412.9,322.5 L414.9,323.9 L416.9,325.4 L418.9,326.8 L420.9,328.3 L422.9,329.7 L424.9,331.2 L426.9,332.6 L428.9,334.0 L430.9,335.4 L432.9,336.8 L434.9,338.2 L436.9,339.6 L438.9,341.0 L440.9,342.4 L442.9,343.8 L444.9,345.2 L446.9,346.5 L448.9,347.9 L450.9,349.3 L452.9,350.6 L454.9,352.0 L456.9,353.3 L458.9,354.7 L460.9,356.0 L462.9,357.3 L464.9,358.7 L466.9,360.0 L468.9,361.3 L470.9,362.6 L472.9,363.9 L474.9,365.2 L476.9,366.5 L478.9,367.8 L480.9,369.1 L482.9,370.3 L484.9,371.6 L486.9,372.9 L488.9,374.1 L490.9,375.4 L492.9,376.6 L494.9,377.9 L496.9,379.1 L498.9,380.4 L500.9,381.6 L502.9,382.8 L504.9,384.0 L506.9,385.3 L508.9,386.5 L510.9,387.7 L512.9,388.9 L514.9,390.1 L516.9,391.2 L518.9,392.4 L520.9,393.6 L522.9,394.8 L524.9,395.9 L526.9,397.1 L528.9,398.3 L530.9,399.4 L532.8,400.6 L534.8,401.7 L536.8,402.8 L538.8,404.0 L540.8,405.1 L542.8,406.2 L544.8,407.3 L546.8,408.5 L548.8,409.6 L550.8,410.7 L552.8,411.8 L554.8,412.8 L556.8,413.9 L558.8,415.0 L560.8,416.1 L562.8,417.2 L564.8,418.2 L566.8,419.3 L568.8,420.3 L570.8,421.4 L572.8,422.4 L574.8,423.5 L576.8,424.5 L578.8,425.5 L580.8,426.6 L582.8,427.6 L584.8,428.6 L586.8,429.6 L588.8,430.6 L590.8,431.6 L592.8,432.6 L594.8,433.6 L596.8,434.6 L598.8,435.6 L600.8,436.5 L602.8,437.5 L604.8,438.5 L606.8,439.4 L608.8,440.4 L610.8,441.3 L612.8,442.3 L614.8,443.2 L616.8,444.2 L618.8,445.1 L620.8,446.0 L622.8,446.9 L624.8,447.9 L626.8,448.8 L628.8,449.7 L630.8,450.6 L632.8,451.5 L634.8,452.4 L636.8,453.2 L638.8,454.1 L640.8,455.0 L642.8,455.9 L644.8,456.7 L646.8,457.6 L648.8,458.5 L650.8,459.3 L652.8,460.2 L654.8,461.0 L656.8,461.8 L658.8,462.7 L660.8,463.5 L662.8,464.3 L664.8,465.1 L666.8,466.0 L668.8,466.8 L670.8,467.6 L672.8,468.4 L674.8,469.2 L676.8,469.9 L678.8,470.7 L680.8,471.5 L682.8,472.3 L684.8,473.1 L686.8,473.8 L688.8,474.6 L690.8,475.3 L692.8,476.1 L694.8,476.8 L696.8,477.6 L698.8,478.3 L700.8,479.0 L702.8,479.8 L704.8,480.5 L706.8,481.2 L708.8,481.9 L710.8,482.6 L712.8,483.3 L714.8,484.0 L716.8,484.7 L718.8,485.4 L720.8,486.1 L722.8,486.8 L724.8,487.5 L726.8,488.2 L728.8,488.9 L730.8,489.5 L732.8,490.2 L734.8,490.9 L736.8,491.5 L738.8,492.2 L740.8,492.9 L742.8,493.5 L744.8,494.2 L746.8,494.8 L748.8,495.5 L750.8,496.1 L752.8,496.7 L754.8,497.4 L756.8,498.0 L758.8,498.7 L760.8,499.3 L762.8,499.9 L764.8,500.6 L766.8,501.2 L768.8,501.8 L770.8,502.4 L772.8,503.1 L774.8,503.7 L776.8,504.3 L778.8,504.9 L780.8,505.5 L782.8,506.1 L784.8,506.8 L786.8,507.4 L788.8,508.0 L790.8,508.6 L792.8,509.2 L794.8,509.8 L796.8,510.4 L798.8,511.0 L800.8,511.7 L802.8,512.3 L804.8,512.9 L806.8,513.5 L808.8,514.1 L810.8,514.7 L812.8,515.3 L814.8,515.9 L816.8,516.5 L818.8,517.1 L820.8,517.8 L822.8,518.4 L824.8,519.0 L826.8,519.6 L828.8,520.2 L830.8,520.8 L832.8,521.4 L834.8,522.1 L836.8,522.7 L838.8,523.3 L840.8,523.9 L842.8,524.5 L844.8,525.2 L846.8,525.8 L848.8,526.4 L850.8,527.0 L852.8,527.7 L854.8,528.3 L856.8,528.9 L858.7,529.6 L860.7,530.2 L862.7,530.8 L864.7,531.5 L866.7,532.1 L868.7,532.8 L870.7,533.4 L872.7,533.6 L874.7,533.7 L876.7,533.8 L878.7,533.9 L880.7,534.0 L882.7,534.1 L884.7,534.2 L886.7,534.3 L888.7,534.4 L890.7,534.5 L892.7,534.6 L894.7,534.7 L896.7,534.8 L898.7,534.9 L900.7,535.0 L902.7,535.1 L904.7,535.1 L906.7,535.2 L908.7,535.3 L910.7,535.4 L912.7,535.5 L914.7,535.6 L916.7,535.7 L918.7,535.8 L920.7,535.9 L922.7,536.0 L924.7,536.0 L926.7,536.1 L928.7,536.2 L930.7,536.3 L932.7,536.4 L934.7,536.5 L936.7,536.6 L938.7,536.6 L940.7,536.7 L942.7,536.8 L944.7,536.9 L946.7,537.0 L948.7,537.1 L950.7,537.1 L952.7,537.2 L954.7,537.3 L956.7,537.4 L958.7,537.5 L960.7,537.5 L962.7,537.6 L964.7,537.7 L966.7,537.8 L968.7,537.9 L970.7,537.9 L972.7,538.0 L974.7,538.1 L976.7,538.2 L978.7,538.2 L980.7,538.3 L982.7,538.4 L984.7,538.5 L986.7,538.5 L988.7,538.6 L990.7,538.7 L992.7,538.8 L994.7,538.8 L996.7,538.9 L998.7,539.0 L1000.7,539.1 L1002.7,539.1 L1004.7,539.2 L1006.7,539.3 L1008.7,539.3 L1010.7,539.4 L1012.7,539.5 L1014.7,539.6 L1016.7,539.6 L1018.7,539.7 L1020.7,539.8 L1022.7,539.8 L1024.7,539.9 L1026.7,540.0 L1028.7,540.0 L1030.7,540.1 L1032.7,540.2 L1034.7,540.2 L1036.7,540.3 L1038.7,540.4 L1040.7,540.4 L1042.7,540.5 L1044.7,540.6 L1046.7,540.6 L1048.7,540.7 L1050.7,540.7 L1052.7,540.8 L1054.7,540.9 L1056.7,540.9 L1058.7,541.0 L1060.7,541.1 L1062.7,541.1 L1064.7,541.2 L1066.7,541.2 L1068.7,541.3 L1070.7,541.4 L1072.7,541.4 L1074.7,541.5 L1076.7,541.5 L1078.7,541.6 L1080.7,541.7 L1082.7,541.7 L1084.7,541.8 L1086.7,541.8 L1088.7,541.9 L1090.7,541.9 L1092.7,542.0 L1094.7,542.1 L1096.7,542.1 L1098.7,542.2 L1100.7,542.2 L1102.7,542.3 L1104.7,542.3 L1106.7,542.4 L1108.7,542.4 L1110.7,542.5 L1112.7,542.6 L1114.7,542.6 L1116.7,542.7 L1118.7,542.7 L1120.7,542.8 L1122.7,542.8 L1124.7,542.9 L1126.7,542.9 L1128.7,543.0 L1130.7,543.0 L1132.7,543.1 L1134.7,543.1 L1136.7,543.2 L1138.7,543.2 L1140.7,543.3 L1142.7,543.3 L1144.7,543.4 L1146.7,543.4 L1148.7,543.5 L1150.7,543.5 L1152.7,543.6 L1154.7,543.6 L1156.7,543.7 L1158.7,543.7 L1160.7,543.8 L1162.7,543.8 L1164.7,543.9 L1166.7,543.9 L1168.7,544.0 L1170.7,544.0 L1172.7,544.0 L1174.7,544.1 L1176.7,544.1 L1178.7,544.2 L1180.7,544.2 L1182.7,544.3 L1184.6,544.3 L1186.6,544.4 L1188.6,544.4 L1190.6,544.5 L1192.6,544.5 L1194.6,544.5 L1196.6,544.6 L1198.6,544.6 L1200.6,544.7 L1202.6,544.7 L1204.6,544.8 L1206.6,544.8 L1208.6,544.8 L1210.6,544.9 L1212.6,544.9 L1214.6,545.0 L1216.6,545.0 L1218.6,545.0 L1220.6,545.1 L1222.6,545.1 L1224.6,545.2 L1226.6,545.2 L1228.6,545.3 L1230.6,545.3 L1232.6,545.3 L1234.6,545.4 L1236.6,545.4 L1238.6,545.4 L1240.6,545.5 L1242.6,545.5 L1244.6,545.6 L1246.6,545.6 L1248.6,545.6 L1250.6,545.7 L1252.6,545.7 L1254.6,545.8 L1256.6,545.8 L1258.6,545.8 L1260.6,545.9 L1262.6,545.9 L1264.6,545.9 L1266.6,546.0 L1268.6,546.0 L1270.6,546.0 L1272.6,546.1 L1274.6,546.1 L1276.6,546.2 L1278.6,546.2 L1280.6,546.2 L1282.6,546.3 L1284.6,546.3 L1286.6,546.3 L1288.6,546.4 L1290.6,546.4 L1292.6,546.4 L1294.6,546.5 L1296.6,546.5 L1298.6,546.5 L1300.6,546.6 L1302.6,546.6 L1304.6,546.6 L1306.6,546.7 L1308.6,546.7 L1310.6,546.7 L1312.6,546.8 L1314.6,546.8 L1316.6,546.8 L1318.6,546.9 L1320.6,546.9 L1322.6,546.9 L1324.6,546.9 L1326.6,547.0 L1328.6,547.0 L1330.6,547.0 L1332.6,547.1 L1334.6,547.1 L1336.6,547.1 L1338.6,547.2 L1340.6,547.2 L1342.6,547.2 L1344.6,547.3 L1346.6,547.3" stroke="#000000"/>
<path d="M43.0,4.0 L45.0,5.0 L47.0,5.9 L49.0,6.9 L51.0,7.9 L53.0,9.0 L55.0,10.0 L57.0,11.1 L59.0,12.2 L61.0,13.3 L63.0,14.5 L65.0,15.7 L67.0,16.9 L69.0,18.1 L71.0,19.3 L73.0,20.6 L75.0,21.8 L77.0,23.1 L79.0,24.4 L81.0,25.8 L83.0,27.1 L85.0,28.5 L87.0,29.9 L89.0,31.3 L91.0,32.7 L93.0,34.2 L95.0,35.6 L97.0,37.1 L99.0,38.6 L101.0,40.2 L103.0,41.7 L105.0,43.3 L107.0,44.8 L109.0,46.4 L111.0,48.0 L113.0,49.7 L115.0,51.3 L117.0,53.0 L119.0,54.6 L121.0,56.3 L123.0,58.0 L125.0,59.8 L127.0,61.5 L129.0,63.3 L131.0,65.0 L133.0,66.8 L135.0,68.6 L137.0,70.4 L139.0,72.2 L141.0,74.1 L143.0,75.9 L145.0,77.8 L147.0,79.7 L149.0,81.6 L151.0,83.5 L153.0,85.4 L155.0,87.4 L157.0,89.3 L159.0,91.3 L161.0,93.2 L163.0,95.2 L165.0,97.2 L167.0,99.2 L169.0,101.2 L171.0,103.3 L173.0,105.3 L175.0,107.4 L177.0,109.4 L179.0,111.5 L181.0,113.6 L183.0,115.7 L185.0,117.8 L187.0,119.9 L189.0,122.0 L191.0,124.1 L193.0,126.3 L195.0,128.4 L197.0,130.5 L199.0,132.7 L201.0,134.8 L203.0,137.0 L205.0,139.2 L206.9,141.3 L208.9,143.5 L210.9,145.7 L212.9,147.9 L214.9,150.0 L216.9,152.2 L218.9,154.4 L220.9,156.6 L222.9,158.8 L224.9,161.0 L226.9,163.2 L228.9,165.3 L230.9,167.5 L232.9,169.7 L234.9,171.9 L236.9,174.1 L238.9,176.2 L240.9,178.4 L242.9,180.6 L244.9,182.7 L246.9,184.9 L248.9,187.1 L250.9,189.2 L252.9,191.4 L254.9,193.5 L256.9,195.7 L258.9,197.8 L260.9,199.9 L262.9,202.0 L264.9,204.2 L266.9,206.3 L268.9,208.4 L270.9,210.5 L272.9,212.6 L274.9,214.7 L276.9,216.8 L278.9,218.8 L280.9,220.9 L282.9,223.0 L284.9,225.0 L286.9,227.1 L288.9,229.1 L290.9,231.2 L292.9,233.2 L294.9,235.2 L296.9,237.2 L298.9,239.2 L300.9,241.2 L302.9,243.2 L304.9,245.2 L306.9,247.2 L308.9,249.1 L310.9,251.1 L312.9,253.0 L314.9,255.0 L316.9,256.9 L318.9,258.8 L320.9,260.7 L322.9,262.6 L324.9,264.5 L326.9,266.4 L328.9,268.3 L330.9,270.2 L332.9,272.0 L334.9,273.9 L336.9,275.7 L338.9,277.6 L340.9,279.4 L342.9,281.2 L344.9,283.0 L346.9,284.8 L348.9,286.6 L350.9,288.4 L352.9,290.2 L354.9,292.0 L356.9,293.7 L358.9,295.5 L360.9,297.2 L362.9,299.0 L364.9,300.7 L366.9,302.4 L368.9,304.2 L370.9,305.9 L372.9,307.6 L374.9,309.3 L376.9,311.0 L378.9,312.6 L380.9,314.3 L382.9,316.0 L384.9,317.6 L386.9,319.3 L388.9,320.9 L390.9,322.6 L392.9,324.2 L394.9,325.8 L396.9,327.5 L398.9,329.1 L400.9,330.7 L402.9,332.3 L404.9,333.9 L406.9,335.4 L408.9,337.0 L410.9,338.6 L412.9,340.1 L414.9,341.7 L416.9,343.3 L418.9,344.8 L420.9,346.3 L422.9,347.9 L424.9,349.4 L426.9,350.9 L428.9,352.4 L430.9,353.9 L432.9,355.4 L434.9,356.9 L436.9,358.4 L438.9,359.8 L440.9,361.3 L442.9,362.8 L444.9,364.2 L446.9,365.7 L448.9,367.1 L450.9,368.5 L452.9,370.0 L454.9,371.4 L456.9,372.8 L458.9,374.2 L460.9,375.6 L462.9,377.0 L464.9,378.4 L466.9,379.8 L468.9,381.1 L470.9,382.5 L472.9,383.9 L474.9,385.2 L476.9,386.6 L478.9,387.9 L480.9,389.3 L482.9,390.6 L484.9,391.9 L486.9,393.2 L488.9,394.6 L490.9,395.9 L492.9,397.2 L494.9,398.5 L496.9,399.8 L498.9,401.0 L500.9,402.3 L502.9,403.6 L504.9,404.9 L506.9,406.1 L508.9,407.4 L510.9,408.6 L512.9,409.9 L514.9,411.1 L516.9,412.3 L518.9,413.6 L520.9,414.8 L522.9,416.0 L524.9,417.2 L526.9,418.4 L528.9,419.6 L530.9,420.8 L532.8,422.0 L534.8,423.2 L536.8,424.3 L538.8,425.5 L540.8,426.7 L542.8,427.8 L544.8,429.0 L546.8,430.1 L548.8,431.3 L550.8,432.4 L552.8,433.5 L554.8,434.7 L556.8,435.8 L558.8,436.9 L560.8,438.0 L562.8,439.1 L564.8,440.2 L566.8,441.3 L568.8,442.4 L570.8,443.5 L572.8,444.6 L574.8,445.6 L576.8,446.7 L578.8,447.8 L580.8,448.8 L582.8,449.9 L584.8,450.9 L586.8,452.0 L588.8,453.0 L590.8,454.0 L592.8,455.1 L594.8,456.1 L596.8,457.1 L598.8,458.1 L600.8,459.1 L602.8,460.2 L604.8,461.2 L606.8,462.1 L608.8,463.1 L610.8,464.1 L612.8,465.1 L614.8,466.1 L616.8,467.1 L618.8,468.0 L620.8,469.0 L622.8,469.9 L624.8,470.9 L626.8,471.8 L628.8,472.8 L630.8,473.7 L632.8,474.7 L634.8,475.6 L636.8,476.5 L638.8,477.4 L640.8,478.4 L642.8,479.3 L644.8,480.2 L646.8,481.1 L648.8,482.0 L650.8,482.9 L652.8,483.8 L654.8,484.7 L656.8,485.6 L658.8,486.4 L660.8,487.3 L662.8,488.2 L664.8,489.1 L666.8,489.9 L668.8,490.8 L670.8,491.6 L672.8,492.5 L674.8,493.3 L676.8,494.2 L678.8,495.0 L680.8,495.9 L682.8,496.7 L684.8,497.5 L686.8,498.3 L688.8,499.2 L690.8,500.0 L692.8,500.8 L694.8,501.6 L696.8,502.4 L698.8,503.2 L700.8,504.0 L702.8,504.8 L704.8,505.6 L706.8,506.4 L708.8,507.2 L710.8,508.0 L712.8,508.7 L714.8,509.5 L716.8,510.3 L718.8,511.0 L720.8,511.8 L722.8,512.6 L724.8,513.3 L726.8,514.1 L728.8,514.8 L730.8,515.6 L732.8,516.3 L734.8,517.0 L736.8,517.8 L738.8,518.5 L740.8,519.2 L742.8,520.0 L744.8,520.7 L746.8,521.4 L748.8,522.1 L750.8,522.9 L752.8,523.6 L754.8,524.3 L756.8,525.0 L758.8,525.7 L760.8,526.4 L762.8,527.1 L764.8,527.4 L766.8,527.5 L768.8,527.7 L770.8,527.8 L772.8,527.9 L774.8,528.0 L776.8,528.2 L778.8,528.3 L780.8,528.4 L782.8,528.6 L784.8,528.7 L786.8,528.8 L788.8,528.9 L790.8,529.1 L792.8,529.2 L794.8,529.3 L796.8,529.4 L798.8,529.5 L800.8,529.7 L802.8,529.8 L804.8,529.9 L806.8,530.0 L808.8,530.1 L810.8,530.3 L812.8,530.4 L814.8,530.5 L816.8,530.6 L818.8,530.7 L820.8,530.8 L822.8,530.9 L824.8,531.1 L826.8,531.2 L828.8,531.3 L830.8,531.4 L832.8,531.5 L834.8,531.6 L836.8,531.7 L838.8,531.8 L840.8,531.9 L842.8,532.1 L844.8,532.2 L846.8,532.3 L848.8,532.4 L850.8,532.5 L852.8,532.6 L854.8,532.7 L856.8,532.8 L858.7,532.9 L860.7,533.0 L862.7,533.1 L864.7,533.2 L866.7,533.3 L868.7,533.4 L870.7,533.5 L872.7,533.6 L874.7,533.7 L876.7,533.8 L878.7,533.9 L880.7,534.0 L882.7,534.1 L884.7,534.2 L886.7,534.3 L888.7,534.4 L890.7,534.5 L892.7,534.6 L894.7,534.7 L896.7,534.8 L898.7,534.9 L900.7,535.0 L902.7,535.1 L904.7,535.1 L906.7,535.2 L908.7,535.3 L910.7,535.4 L912.7,535.5 L914.7,535.6 L916.7,535.7 L918.7,535.8 L920.7,535.9 L922.7,536.0 L924.7,536.0 L926.7,536.1 L928.7,536.2 L930.7,536.3 L932.7,536.4 L934.7,536.5 L936.7,536.6 L938.7,536.6 L940.7,536.7 L942.7,536.8 L944.7,536.9 L946.7,537.0 L948.7,537.1 L950.7,537.1 L952.7,537.2 L954.7,537.3 L956.7,537.4 L958.7,537.5 L960.7,537.5 L962.7,537.6 L964.7,537.7 L966.7,537.8 L968.7,537.9 L970.7,537.9 L972.7,538.0 L974.7,538.1 L976.7,538.2 L978.7,538.2 L980.7,538.3 L982.7,538.4 L984.7,538.5 L986.7,538.5 L988.7,538.6 L990.7,538.7 L992.7,538.8 L994.7,538.8 L996.7,538.9 L998.7,539.0 L1000.7,539.1 L1002.7,539.1 L1004.7,539.2 L1006.7,539.3 L1008.7,539.3 L1010.7,539.4 L1012.7,539.5 L1014.7,539.6 L1016.7,539.6 L1018.7,539.7 L1020.7,539.8 L1022.7,539.8 L1024.7,539.9 L1026.7,540.0 L1028.7,540.0 L1030.7,540.1 L1032.7,540.2 L1034.7,540.2 L1036.7,540.3 L1038.7,540.4 L1040.7,540.4 L1042.7,540.5 L1044.7,540.6 L1046.7,540.6 L1048.7,540.7 L1050.7,540.7 L1052.7,540.8 L1054.7,540.9 L1056.7,540.9 L1058.7,541.0 L1060.7,541.1 L1062.7,541.1 L1064.7,541.2 L1066.7,541.2 L1068.7,541.3 L1070.7,541.4 L1072.7,541.4 L1074.7,541.5 L1076.7,541.5 L1078.7,541.6 L1080.7,541.7 L1082.7,541.7 L1084.7,541.8 L1086.7,541.8 L1088.7,541.9 L1090.7,541.9 L1092.7,542.0 L1094.7,542.1 L1096.7,542.1 L1098.7,542.2 L1100.7,542.2 L1102.7,542.3 L1104.7,542.3 L1106.7,542.4 L1108.7,542.4 L1110.7,542.5 L1112.7,542.6 L1114.7,542.6 L1116.7,542.7 L1118.7,542.7 L1120.7,542.8 L1122.7,542.8 L1124.7,542.9 L1126.7,542.9 L1128.7,543.0 L1130.7,543.0 L1132.7,543.1 L1134.7,543.1 L1136.7,543.2 L1138.7,543.2 L1140.7,543.3 L1142.7,543.3 L1144.7,543.4 L1146.7,543.4 L1148.7,543.5 L1150.7,543.5 L1152.7,543.6 L1154.7,543.6 L1156.7,543.7 L1158.7,543.7 L1160.7,543.8 L1162.7,543.8 L1164.7,543.9 L1166.7,543.9 L1168.7,544.0 L1170.7,544.0 L1172.7,544.0 L1174.7,544.1 L1176.7,544.1 L1178.7,544.2 L1180.7,544.2 L1182.7,544.3 L1184.6,544.3 L1186.6,544.4 L1188.6,544.4 L1190.6,544.5 L1192.6,544.5 L1194.6,544.5 L1196.6,544.6 L1198.6,544.6 L1200.6,544.7 L1202.6,544.7 L1204.6,544.8 L1206.6,544.8 L1208.6,544.8 L1210.6,544.9 L1212.6,544.9 L1214.6,545.0 L1216.6,545.0 L1218.6,545.0 L1220.6,545.1 L1222.6,545.1 L1224.6,545.2 L1226.6,545.2 L1228.6,545.3 L1230.6,545.3 L1232.6,545.3 L1234.6,545.4 L1236.6,545.4 L1238.6,545.4 L1240.6,545.5 L1242.6,545.5 L1244.6,545.6 L1246.6,545.6 L1248.6,545.6 L1250.6,545.7 L1252.6,545.7 L1254.6,545.8 L1256.6,545.8 L1258.6,545.8 L1260.6,545.9 L1262.6,545.9 L1264.6,545.9 L1266.6,546.0 L1268.6,546.0 L1270.6,546.0 L1272.6,546.1 L1274.6,546.1 L1276.6,546.2 L1278.6,546.2 L1280.6,546.2 L1282.6,546.3 L1284.6,546.3 L1286.6,546.3 L1288.6,546.4 L1290.6,546.4 L1292.6,546.4 L1294.6,546.5 L1296.6,546.5 L1298.6,546.5 L1300.6,546.6 L1302.6,546.6 L1304.6,546.6 L1306.6,546.7 L1308.6,546.7 L1310.6,546.7 L1312.6,546.8 L1314.6,546.8 L1316.6,546.8 L1318.6,546.9 L1320.6,546.9 L1322.6,546.9 L1324.6,546.9 L1326.6,547.0 L1328.6,547.0 L1330.6,547.0 L1332.6,547.1 L1334.6,547.1 L1336.6,547.1 L1338.6,547.2 L1340.6,547.2 L1342.6,547.2 L1344.6,547.3 L1346.6,547.3" stroke="#cc0000"/>
<path d="M43.0,4.0 L45.0,5.0 L47.0,6.0 L49.0,7.0 L51.0,8.1 L53.0,9.1 L55.0,10.2 L57.0,11.3 L59.0,12.5 L61.0,13.6 L63.0,14.8 L65.0,16.0 L67.0,17.3 L69.0,18.5 L71.0,19.8 L73.0,21.1 L75.0,22.4 L77.0,23.8 L79.0,25.1 L81.0,26.5 L83.0,27.9 L85.0,29.3 L87.0,30.8 L89.0,32.3 L91.0,33.7 L93.0,35.3 L95.0,36.8 L97.0,38.3 L99.0,39.9 L101.0,41.5 L103.0,43.1 L105.0,44.8 L107.0,46.4 L109.0,48.1 L111.0,49.8 L113.0,51.5 L115.0,53.2 L117.0,55.0 L119.0,56.7 L121.0,58.5 L123.0,60.3 L125.0,62.2 L127.0,64.0 L129.0,65.9 L131.0,67.8 L133.0,69.7 L135.0,71.6 L137.0,73.5 L139.0,75.5 L141.0,77.5 L143.0,79.5 L145.0,81.5 L147.0,83.5 L149.0,85.6 L151.0,87.6 L153.0,89.7 L155.0,91.8 L157.0,93.9 L159.0,96.0 L161.0,98.2 L163.0,100.3 L165.0,102.5 L167.0,104.6 L169.0,106.8 L171.0,109.0 L173.0,111.2 L175.0,113.5 L177.0,115.7 L179.0,117.9 L181.0,120.2 L183.0,122.4 L185.0,124.7 L187.0,127.0 L189.0,129.3 L191.0,131.6 L193.0,133.9 L195.0,136.2 L197.0,138.5 L199.0,140.8 L201.0,143.1 L203.0,145.4 L205.0,147.8 L206.9,150.1 L208.9,152.4 L210.9,154.8 L212.9,157.1 L214.9,159.4 L216.9,161.8 L218.9,164.1 L220.9,166.5 L222.9,168.8 L224.9,171.2 L226.9,173.5 L228.9,175.9 L230.9,178.2 L232.9,180.5 L234.9,182.9 L236.9,185.2 L238.9,187.6 L240.9,189.9 L242.9,192.2 L244.9,194.5 L246.9,196.8 L248.9,199.1 L250.9,201.5 L252.9,203.8 L254.9,206.0 L256.9,208.3 L258.9,210.6 L260.9,212.9 L262.9,215.2 L264.9,217.4 L266.9,219.7 L268.9,221.9 L270.9,224.2 L272.9,226.4 L274.9,228.7 L276.9,230.9 L278.9,233.1 L280.9,235.3 L282.9,237.5 L284.9,239.7 L286.9,241.9 L288.9,244.0 L290.9,246.2 L292.9,248.3 L294.9,250.5 L296.9,252.6 L298.9,254.7 L300.9,256.9 L302.9,259.0 L304.9,261.1 L306.9,263.1 L308.9,265.2 L310.9,267.3 L312.9,269.3 L314.9,271.3 L316.9,273.4 L318.9,275.4 L320.9,277.4 L322.9,279.4 L324.9,281.4 L326.9,283.4 L328.9,285.3 L330.9,287.3 L332.9,289.2 L334.9,291.2 L336.9,293.1 L338.9,295.0 L340.9,296.9 L342.9,298.8 L344.9,300.7 L346.9,302.6 L348.9,304.5 L350.9,306.3 L352.9,308.2 L354.9,310.0 L356.9,311.9 L358.9,313.7 L360.9,315.5 L362.9,317.3 L364.9,319.1 L366.9,320.9 L368.9,322.7 L370.9,324.5 L372.9,326.2 L374.9,328.0 L376.9,329.7 L378.9,331.5 L380.9,333.2 L382.9,334.9 L384.9,336.6 L386.9,338.4 L388.9,340.1 L390.9,341.8 L392.9,343.4 L394.9,345.1 L396.9,346.8 L398.9,348.5 L400.9,350.1 L402.9,351.8 L404.9,353.4 L406.9,355.0 L408.9,356.7 L410.9,358.3 L412.9,359.9 L414.9,361.5 L416.9,363.1 L418.9,364.7 L420.9,366.3 L422.9,367.9 L424.9,369.4 L426.9,371.0 L428.9,372.6 L430.9,374.1 L432.9,375.7 L434.9,377.2 L436.9,378.7 L438.9,380.3 L440.9,381.8 L442.9,383.3 L444.9,384.8 L446.9,386.3 L448.9,387.8 L450.9,389.3 L452.9,390.8 L454.9,392.3 L456.9,393.8 L458.9,395.2 L460.9,396.7 L462.9,398.1 L464.9,399.6 L466.9,401.0 L468.9,402.5 L470.9,403.9 L472.9,405.3 L474.9,406.7 L476.9,408.1 L478.9,409.5 L480.9,410.9 L482.9,412.3 L484.9,413.6 L486.9,415.0 L488.9,416.4 L490.9,417.7 L492.9,419.1 L494.9,420.4 L496.9,421.7 L498.9,423.0 L500.9,424.3 L502.9,425.6 L504.9,426.9 L506.9,428.2 L508.9,429.5 L510.9,430.8 L512.9,432.0 L514.9,433.3 L516.9,434.5 L518.9,435.8 L520.9,437.0 L522.9,438.3 L524.9,439.5 L526.9,440.7 L528.9,441.9 L530.9,443.1 L532.8,444.3 L534.8,445.5 L536.8,446.6 L538.8,447.8 L540.8,449.0 L542.8,450.1 L544.8,451.3 L546.8,452.4 L548.8,453.6 L550.8,454.7 L552.8,455.8 L554.8,456.9 L556.8,458.1 L558.8,459.2 L560.8,460.3 L562.8,461.4 L564.8,462.4 L566.8,463.5 L568.8,464.6 L570.8,465.7 L572.8,466.7 L574.8,467.8 L576.8,468.8 L578.8,469.9 L580.8,470.9 L582.8,472.0 L584.8,473.0 L586.8,474.0 L588.8,475.1 L590.8,476.1 L592.8,477.1 L594.8,478.1 L596.8,479.1 L598.8,480.1 L600.8,481.1 L602.8,482.1 L604.8,483.0 L606.8,484.0 L608.8,485.0 L610.8,486.0 L612.8,486.9 L614.8,487.9 L616.8,488.8 L618.8,489.8 L620.8,490.7 L622.8,491.7 L624.8,492.6 L626.8,493.5 L628.8,494.5 L630.8,495.4 L632.8,496.3 L634.8,497.2 L636.8,498.2 L638.8,499.1 L640.8,500.0 L642.8,500.9 L644.8,501.8 L646.8,502.7 L648.8,503.6 L650.8,504.5 L652.8,505.3 L654.8,506.2 L656.8,507.1 L658.8,508.0 L660.8,508.9 L662.8,509.7 L664.8,510.6 L666.8,511.5 L668.8,512.3 L670.8,513.2 L672.8,514.1 L674.8,514.9 L676.8,515.8 L678.8,516.6 L680.8,517.5 L682.8,518.3 L684.8,519.2 L686.8,520.0 L688.8,520.8 L690.8,521.7 L692.8,522.2 L694.8,522.3 L696.8,522.5 L698.8,522.6 L700.8,522.8 L702.8,523.0 L704.8,523.1 L706.8,523.3 L708.8,523.4 L710.8,523.6 L712.8,523.7 L714.8,523.9 L716.8,524.0 L718.8,524.2 L720.8,524.3 L722.8,524.5 L724.8,524.6 L726.8,524.8 L728.8,524.9 L730.8,525.1 L732.8,525.2 L734.8,525.3 L736.8,525.5 L738.8,525.6 L740.8,525.8 L742.8,525.9 L744.8,526.0 L746.8,526.2 L748.8,526.3 L750.8,526.5 L752.8,526.6 L754.8,526.7 L756.8,526.9 L758.8,527.0 L760.8,527.1 L762.8,527.3 L764.8,527.4 L766.8,527.5 L768.8,527.7 L770.8,527.8 L772.8,527.9 L774.8,528.0 L776.8,528.2 L778.8,528.3 L780.8,528.4 L782.8,528.6 L784.8,528.7 L786.8,528.8 L788.8,528.9 L790.8,529.1 L792.8,529.2 L794.8,529.3 L796.8,529.4 L798.8,529.5 L800.8,529.7 L802.8,529.8 L804.8,529.9 L806.8,530.0 L808.8,530.1 L810.8,530.3 L812.8,530.4 L814.8,530.5 L816.8,530.6 L818.8,530.7 L820.8,530.8 L822.8,530.9 L824.8,531.1 L826.8,531.2 L828.8,531.3 L830.8,531.4 L832.8,531.5 L834.8,531.6 L836.8,531.7 L838.8,531.8 L840.8,531.9 L842.8,532.1 L844.8,532.2 L846.8,532.3 L848.8,532.4 L850.8,532.5 L852.8,532.6 L854.8,532.7 L856.8,532.8 L858.7,532.9 L860.7,533.0 L862.7,533.1 L864.7,533.2 L866.7,533.3 L868.7,533.4 L870.7,533.5 L872.7,533.6 L874.7,533.7 L876.7,533.8 L878.7,533.9 L880.7,534.0 L882.7,534.1 L884.7,534.2 L886.7,534.3 L888.7,534.4 L890.7,534.5 L892.7,534.6 L894.7,534.7 L896.7,534.8 L898.7,534.9 L900.7,535.0 L902.7,535.1 L904.7,535.1 L906.7,535.2 L908.7,535.3 L910.7,535.4 L912.7,535.5 L914.7,535.6 L916.7,535.7 L918.7,535.8 L920.7,535.9 L922.7,536.0 L924.7,536.0 L926.7,536.1 L928.7,536.2 L930.7,536.3 L932.7,536.4 L934.7,536.5 L936.7,536.6 L938.7,536.6 L940.7,536.7 L942.7,536.8 L944.7,536.9 L946.7,537.0 L948.7,537.1 L950.7,537.1 L952.7,537.2 L954.7,537.3 L956.7,537.4 L958.7,537.5 L960.7,537.5 L962.7,537.6 L964.7,537.7 L966.7,537.8 L968.7,537.9 L970.7,537.9 L972.7,538.0 L974.7,538.1 L976.7,538.2 L978.7,538.2 L980.7,538.3 L982.7,538.4 L984.7,538.5 L986.7,538.5 L988.7,538.6 L990.7,538.7 L992.7,538.8 L994.7,538.8 L996.7,538.9 L998.7,539.0 L1000.7,539.1 L1002.7,539.1 L1004.7,539.2 L1006.7,539.3 L1008.7,539.3 L1010.7,539.4 L1012.7,539.5 L1014.7,539.6 L1016.7,539.6 L1018.7,539.7 L1020.7,539.8 L1022.7,539.8 L1024.7,539.9 L1026.7,540.0 L1028.7,540.0 L1030.7,540.1 L1032.7,540.2 L1034.7,540.2 L1036.7,540.3 L1038.7,540.4 L1040.7,540.4 L1042.7,540.5 L1044.7,540.6 L1046.7,540.6 L1048.7,540.7 L1050.7,540.7 L1052.7,540.8 L1054.7,540.9 L1056.7,540.9 L1058.7,541.0 L1060.7,541.1 L1062.7,541.1 L1064.7,541.2 L1066.7,541.2 L1068.7,541.3 L1070.7,541.4 L1072.7,541.4 L1074.7,541.5 L1076.7,541.5 L1078.7,541.6 L1080.7,541.7 L1082.7,541.7 L1084.7,541.8 L1086.7,541.8 L1088.7,541.9 L1090.7,541.9 L1092.7,542.0 L1094.7,542.1 L1096.7,542.1 L1098.7,542.2 L1100.7,542.2 L1102.7,542.3 L1104.7,542.3 L1106.7,542.4 L1108.7,542.4 L1110.7,542.5 L1112.7,542.6 L1114.7,542.6 L1116.7,542.7 L1118.7,542.7 L1120.7,542.8 L1122.7,542.8 L1124.7,542.9 L1126.7,542.9 L1128.7,543.0 L1130.7,543.0 L1132.7,543.1 L1134.7,543.1 L1136.7,543.2 L1138.7,543.2 L1140.7,543.3 L1142.7,543.3 L1144.7,543.4 L1146.7,543.4 L1148.7,543.5 L1150.7,543.5 L1152.7,543.6 L1154.7,543.6 L1156.7,543.7 L1158.7,543.7 L1160.7,543.8 L1162.7,543.8 L1164.7,543.9 L1166.7,543.9 L1168.7,544.0 L1170.7,544.0 L1172.7,544.0 L1174.7,544.1 L1176.7,544.1 L1178.7,544.2 L1180.7,544.2 L1182.7,544.3 L1184.6,544.3 L1186.6,544.4 L1188.6,544.4 L1190.6,544.5 L1192.6,544.5 L1194.6,544.5 L1196.6,544.6 L1198.6,544.6 L1200.6,544.7 L1202.6,544.7 L1204.6,544.8 L1206.6,544.8 L1208.6,544.8 L1210.6,544.9 L1212.6,544.9 L1214.6,545.0 L1216.6,545.0 L1218.6,545.0 L1220.6,545.1 L1222.6,545.1 L1224.6,545.2 L1226.6,545.2 L1228.6,545.3 L1230.6,545.3 L1232.6,545.3 L1234.6,545.4 L1236.6,545.4 L1238.6,545.4 L1240.6,545.5 L1242.6,545.5 L1244.6,545.6 L1246.6,545.6 L1248.6,545.6 L1250.6,545.7 L1252.6,545.7 L1254.6,545.8 L1256.6,545.8 L1258.6,545.8 L1260.6,545.9 L1262.6,545.9 L1264.6,545.9 L1266.6,546.0 L1268.6,546.0 L1270.6,546.0 L1272.6,546.1 L1274.6,546.1 L1276.6,546.2 L1278.6,546.2 L1280.6,546.2 L1282.6,546.3 L1284.6,546.3 L1286.6,546.3 L1288.6,546.4 L1290.6,546.4 L1292.6,546.4 L1294.6,546.5 L1296.6,546.5 L1298.6,546.5 L1300.6,546.6 L1302.6,546.6 L1304.6,546.6 L1306.6,546.7 L1308.6,546.7 L1310.6,546.7 L1312.6,546.8 L1314.6,546.8 L1316.6,546.8 L1318.6,546.9 L1320.6,546.9 L1322.6,546.9 L1324.6,546.9 L1326.6,547.0 L1328.6,547.0 L1330.6,547.0 L1332.6,547.1 L1334.6,547.1 L1336.6,547.1 L1338.6,547.2 L1340.6,547.2 L1342.6,547.2 L1344.6,547.3 L1346.6,547.3" stroke="#00a000"/>
<path d="M43.0,4.0 L45.0,5.0 L47.0,6.0 L49.0,7.0 L51.0,8.1 L53.0,9.1 L55.0,10.3 L57.0,11.4 L59.0,12.6 L61.0,13.8 L63.0,15.0 L65.0,16.2 L67.0,17.5 L69.0,18.8 L71.0,20.1 L73.0,21.4 L75.0,22.8 L77.0,24.2 L79.0,25.6 L81.0,27.1 L83.0,28.6 L85.0,30.1 L87.0,31.6 L89.0,33.1 L91.0,34.7 L93.0,36.3 L95.0,37.9 L97.0,39.5 L99.0,41.2 L101.0,42.9 L103.0,44.6 L105.0,46.3 L107.0,48.1 L109.0,49.9 L111.0,51.7 L113.0,53.5 L115.0,55.3 L117.0,57.2 L119.0,59.1 L121.0,61.0 L123.0,62.9 L125.0,64.9 L127.0,66.9 L129.0,68.9 L131.0,70.9 L133.0,72.9 L135.0,75.0 L137.0,77.0 L139.0,79.1 L141.0,81.2 L143.0,83.4 L145.0,85.5 L147.0,87.7 L149.0,89.9 L151.0,92.1 L153.0,94.3 L155.0,96.6 L157.0,98.8 L159.0,101.1 L161.0,103.4 L163.0,105.7 L165.0,108.0 L167.0,110.3 L169.0,112.7 L171.0,115.0 L173.0,117.4 L175.0,119.8 L177.0,122.1 L179.0,124.5 L181.0,126.9 L183.0,129.3 L185.0,131.8 L187.0,134.2 L189.0,136.6 L191.0,139.1 L193.0,141.5 L195.0,144.0 L197.0,146.4 L199.0,148.9 L201.0,151.4 L203.0,153.8 L205.0,156.3 L206.9,158.8 L208.9,161.3 L210.9,163.7 L212.9,166.2 L214.9,168.7 L216.9,171.2 L218.9,173.7 L220.9,176.1 L222.9,178.6 L224.9,181.1 L226.9,183.6 L228.9,186.0 L230.9,188.5 L232.9,191.0 L234.9,193.4 L236.9,195.9 L238.9,198.3 L240.9,200.7 L242.9,203.2 L244.9,205.6 L246.9,208.0 L248.9,210.4 L250.9,212.8 L252.9,215.2 L254.9,217.6 L256.9,219.9 L258.9,222.3 L260.9,224.7 L262.9,227.0 L264.9,229.4 L266.9,231.7 L268.9,234.0 L270.9,236.3 L272.9,238.6 L274.9,240.9 L276.9,243.2 L278.9,245.5 L280.9,247.8 L282.9,250.0 L284.9,252.3 L286.9,254.5 L288.9,256.8 L290.9,259.0 L292.9,261.2 L294.9,263.4 L296.9,265.6 L298.9,267.8 L300.9,269.9 L302.9,272.1 L304.9,274.2 L306.9,276.4 L308.9,278.5 L310.9,280.6 L312.9,282.7 L314.9,284.8 L316.9,286.9 L318.9,288.9 L320.9,291.0 L322.9,293.0 L324.9,295.1 L326.9,297.1 L328.9,299.1 L330.9,301.1 L332.9,303.1 L334.9,305.1 L336.9,307.1 L338.9,309.1 L340.9,311.0 L342.9,313.0 L344.9,314.9 L346.9,316.8 L348.9,318.7 L350.9,320.6 L352.9,322.5 L354.9,324.4 L356.9,326.3 L358.9,328.2 L360.9,330.0 L362.9,331.9 L364.9,333.7 L366.9,335.6 L368.9,337.4 L370.9,339.2 L372.9,341.0 L374.9,342.8 L376.9,344.6 L378.9,346.4 L380.9,348.2 L382.9,349.9 L384.9,351.7 L386.9,353.4 L388.9,355.2 L390.9,356.9 L392.9,358.6 L394.9,360.3 L396.9,362.1 L398.9,363.8 L400.9,365.4 L402.9,367.1 L404.9,368.8 L406.9,370.5 L408.9,372.1 L410.9,373.8 L412.9,375.4 L414.9,377.1 L416.9,378.7 L418.9,380.3 L420.9,382.0 L422.9,383.6 L424.9,385.2 L426.9,386.8 L428.9,388.4 L430.9,389.9 L432.9,391.5 L434.9,393.1 L436.9,394.7 L438.9,396.2 L440.9,397.8 L442.9,399.3 L444.9,400.9 L446.9,402.4 L448.9,403.9 L450.9,405.4 L452.9,407.0 L454.9,408.5 L456.9,410.0 L458.9,411.5 L460.9,413.0 L462.9,414.4 L464.9,415.9 L466.9,417.4 L468.9,418.9 L470.9,420.3 L472.9,421.8 L474.9,423.3 L476.9,424.7 L478.9,426.2 L480.9,427.6 L482.9,429.0 L484.9,430.5 L486.9,431.9 L488.9,433.3 L490.9,434.7 L492.9,436.1 L494.9,437.6 L496.9,439.0 L498.9,440.4 L500.9,441.8 L502.9,443.1 L504.9,444.5 L506.9,445.9 L508.9,447.3 L510.9,448.7 L512.9,450.0 L514.9,451.4 L516.9,452.8 L518.9,454.1 L520.9,455.5 L522.9,456.8 L524.9,458.1 L526.9,459.5 L528.9,460.8 L530.9,462.1 L532.8,463.4 L534.8,464.8 L536.8,466.1 L538.8,467.4 L540.8,468.6 L542.8,469.9 L544.8,471.2 L546.8,472.5 L548.8,473.7 L550.8,475.0 L552.8,476.2 L554.8,477.5 L556.8,478.7 L558.8,479.9 L560.8,481.2 L562.8,482.4 L564.8,483.6 L566.8,484.8 L568.8,486.0 L570.8,487.1 L572.8,488.3 L574.8,489.5 L576.8,490.6 L578.8,491.8 L580.8,492.9 L582.8,494.0 L584.8,495.1 L586.8,496.3 L588.8,497.4 L590.8,498.4 L592.8,499.5 L594.8,500.6 L596.8,501.7 L598.8,502.7 L600.8,503.8 L602.8,504.8 L604.8,505.8 L606.8,506.8 L608.8,507.8 L610.8,508.8 L612.8,509.8 L614.8,510.8 L616.8,511.7 L618.8,512.7 L620.8,513.6 L622.8,514.5 L624.8,515.4 L626.8,516.3 L628.8,516.7 L630.8,516.8 L632.8,517.0 L634.8,517.2 L636.8,517.4 L638.8,517.6 L640.8,517.8 L642.8,517.9 L644.8,518.1 L646.8,518.3 L648.8,518.5 L650.8,518.7 L652.8,518.8 L654.8,519.0 L656.8,519.2 L658.8,519.4 L660.8,519.5 L662.8,519.7 L664.8,519.9 L666.8,520.0 L668.8,520.2 L670.8,520.4 L672.8,520.5 L674.8,520.7 L676.8,520.9 L678.8,521.0 L680.8,521.2 L682.8,521.4 L684.8,521.5 L686.8,521.7 L688.8,521.9 L690.8,522.0 L692.8,522.2 L694.8,522.3 L696.8,522.5 L698.8,522.6 L700.8,522.8 L702.8,523.0 L704.8,523.1 L706.8,523.3 L708.8,523.4 L710.8,523.6 L712.8,523.7 L714.8,523.9 L716.8,524.0 L718.8,524.2 L720.8,524.3 L722.8,524.5 L724.8,524.6 L726.8,524.8 L728.8,524.9 L730.8,525.1 L732.8,525.2 L734.8,525.3 L736.8,525.5 L738.8,525.6 L740.8,525.8 L742.8,525.9 L744.8,526.0 L746.8,526.2 L748.8,526.3 L750.8,526.5 L752.8,526.6 L754.8,526.7 L756.8,526.9 L758.8,527.0 L760.8,527.1 L762.8,527.3 L764.8,527.4 L766.8,527.5 L768.8,527.7 L770.8,527.8 L772.8,527.9 L774.8,528.0 L776.8,528.2 L778.8,528.3 L780.8,528.4 L782.8,528.6 L784.8,528.7 L786.8,528.8 L788.8,528.9 L790.8,529.1 L792.8,529.2 L794.8,529.3 L796.8,529.4 L798.8,529.5 L800.8,529.7 L802.8,529.8 L804.8,529.9 L806.8,530.0 L808.8,530.1 L810.8,530.3 L812.8,530.4 L814.8,530.5 L816.8,530.6 L818.8,530.7 L820.8,530.8 L822.8,530.9 L824.8,531.1 L826.8,531.2 L828.8,531.3 L830.8,531.4 L832.8,531.5 L834.8,531.6 L836.8,531.7 L838.8,531.8 L840.8,531.9 L842.8,532.1 L844.8,532.2 L846.8,532.3 L848.8,532.4 L850.8,532.5 L852.8,532.6 L854.8,532.7 L856.8,532.8 L858.7,532.9 L860.7,533.0 L862.7,533.1 L864.7,533.2 L866.7,533.3 L868.7,533.4 L870.7,533.5 L872.7,533.6 L874.7,533.7 L876.7,533.8 L878.7,533.9 L880.7,534.0 L882.7,534.1 L884.7,534.2 L886.7,534.3 L888.7,534.4 L890.7,534.5 L892.7,534.6 L894.7,534.7 L896.7,534.8 L898.7,534.9 L900.7,535.0 L902.7,535.1 L904.7,535.1 L906.7,535.2 L908.7,535.3 L910.7,535.4 L912.7,535.5 L914.7,535.6 L916.7,535.7 L918.7,535.8 L920.7,535.9 L922.7,536.0 L924.7,536.0 L926.7,536.1 L928.7,536.2 L930.7,536.3 L932.7,536.4 L934.7,536.5 L936.7,536.6 L938.7,536.6 L940.7,536.7 L942.7,536.8 L944.7,536.9 L946.7,537.0 L948.7,537.1 L950.7,537.1 L952.7,537.2 L954.7,537.3 L956.7,537.4 L958.7,537.5 L960.7,537.5 L962.7,537.6 L964.7,537.7 L966.7,537.8 L968.7,537.9 L970.7,537.9 L972.7,538.0 L974.7,538.1 L976.7,538.2 L978.7,538.2 L980.7,538.3 L982.7,538.4 L984.7,538.5 L986.7,538.5 L988.7,538.6 L990.7,538.7 L992.7,538.8 L994.7,538.8 L996.7,538.9 L998.7,539.0 L1000.7,539.1 L1002.7,539.1 L1004.7,539.2 L1006.7,539.3 L1008.7,539.3 L1010.7,539.4 L1012.7,539.5 L1014.7,539.6 L1016.7,539.6 L1018.7,539.7 L1020.7,539.8 L1022.7,539.8 L1024.7,539.9 L1026.7,540.0 L1028.7,540.0 L1030.7,540.1 L1032.7,540.2 L1034.7,540.2 L1036.7,540.3 L1038.7,540.4 L1040.7,540.4 L1042.7,540.5 L1044.7,540.6 L1046.7,540.6 L1048.7,540.7 L1050.7,540.7 L1052.7,540.8 L1054.7,540.9 L1056.7,540.9 L1058.7,541.0 L1060.7,541.1 L1062.7,541.1 L1064.7,541.2 L1066.7,541.2 L1068.7,541.3 L1070.7,541.4 L1072.7,541.4 L1074.7,541.5 L1076.7,541.5 L1078.7,541.6 L1080.7,541.7 L1082.7,541.7 L1084.7,541.8 L1086.7,541.8 L1088.7,541.9 L1090.7,541.9 L1092.7,542.0 L1094.7,542.1 L1096.7,542.1 L1098.7,542.2 L1100.7,542.2 L1102.7,542.3 L1104.7,542.3 L1106.7,542.4 L1108.7,542.4 L1110.7,542.5 L1112.7,542.6 L1114.7,542.6 L1116.7,542.7 L1118.7,542.7 L1120.7,542.8 L1122.7,542.8 L1124.7,542.9 L1126.7,542.9 L1128.7,543.0 L1130.7,543.0 L1132.7,543.1 L1134.7,543.1 L1136.7,543.2 L1138.7,543.2 L1140.7,543.3 L1142.7,543.3 L1144.7,543.4 L1146.7,543.4 L1148.7,543.5 L1150.7,543.5 L1152.7,543.6 L1154.7,543.6 L1156.7,543.7 L1158.7,543.7 L1160.7,543.8 L1162.7,543.8 L1164.7,543.9 L1166.7,543.9 L1168.7,544.0 L1170.7,544.0 L1172.7,544.0 L1174.7,544.1 L1176.7,544.1 L1178.7,544.2 L1180.7,544.2 L1182.7,544.3 L1184.6,544.3 L1186.6,544.4 L1188.6,544.4 L1190.6,544.5 L1192.6,544.5 L1194.6,544.5 L1196.6,544.6 L1198.6,544.6 L1200.6,544.7 L1202.6,544.7 L1204.6,544.8 L1206.6,544.8 L1208.6,544.8 L1210.6,544.9 L1212.6,544.9 L1214.6,545.0 L1216.6,545.0 L1218.6,545.0 L1220.6,545.1 L1222.6,545.1 L1224.6,545.2 L1226.6,545.2 L1228.6,545.3 L1230.6,545.3 L1232.6,545.3 L1234.6,545.4 L1236.6,545.4 L1238.6,545.4 L1240.6,545.5 L1242.6,545.5 L1244.6,545.6 L1246.6,545.6 L1248.6,545.6 L1250.6,545.7 L1252.6,545.7 L1254.6,545.8 L1256.6,545.8 L1258.6,545.8 L1260.6,545.9 L1262.6,545.9 L1264.6,545.9 L1266.6,546.0 L1268.6,546.0 L1270.6,546.0 L1272.6,546.1 L1274.6,546.1 L1276.6,546.2 L1278.6,546.2 L1280.6,546.2 L1282.6,546.3 L1284.6,546.3 L1286.6,546.3 L1288.6,546.4 L1290.6,546.4 L1292.6,546.4 L1294.6,546.5 L1296.6,546.5 L1298.6,546.5 L1300.6,546.6 L1302.6,546.6 L1304.6,546.6 L1306.6,546.7 L1308.6,546.7 L1310.6,546.7 L1312.6,546.8 L1314.6,546.8 L1316.6,546.8 L1318.6,546.9 L1320.6,546.9 L1322.6,546.9 L1324.6,546.9 L1326.6,547.0 L1328.6,547.0 L1330.6,547.0 L1332.6,547.1 L1334.6,547.1 L1336.6,547.1 L1338.6,547.2 L1340.6,547.2 L1342.6,547.2 L1344.6,547.3 L1346.6,547.3" stroke="#0000d0"/>
</g>
</svg>
<div id="legend"><div class="in"></div>
<div style="position:absolute;left:9px;top:14px;width:47px;height:1px;background:#b01010"></div><div style="position:absolute;left:60px;top:8px;line-height:13px;white-space:nowrap;transform:scaleY(1.12);transform-origin:0 0">P1B:1(0)</div><div style="position:absolute;left:9px;top:27px;width:47px;height:1px;background:#10a020"></div><div style="position:absolute;left:60px;top:21px;line-height:13px;white-space:nowrap;transform:scaleY(1.12);transform-origin:0 0">P1B:2(0.111111)</div><div style="position:absolute;left:9px;top:40px;width:47px;height:1px;background:#101090"></div><div style="position:absolute;left:60px;top:34px;line-height:13px;white-space:nowrap;transform:scaleY(1.12);transform-origin:0 0">P1B:3(0.222222)</div><div style="position:absolute;left:9px;top:53px;width:47px;height:1px;background:#d0a020"></div><div style="position:absolute;left:60px;top:47px;line-height:13px;white-space:nowrap;transform:scaleY(1.12);transform-origin:0 0">P1B:4(0.333333)</div><div style="position:absolute;left:9px;top:66px;width:47px;height:1px;background:#b010b0"></div><div style="position:absolute;left:60px;top:60px;line-height:13px;white-space:nowrap;transform:scaleY(1.12);transform-origin:0 0">P1B:5(0.444444)</div><div style="position:absolute;left:9px;top:79px;width:47px;height:1px;background:#10a0c0"></div><div style="position:absolute;left:60px;top:73px;line-height:13px;white-space:nowrap;transform:scaleY(1.12);transform-origin:0 0">P1B:6(0.555556)</div><div style="position:absolute;left:9px;top:92px;width:47px;height:1px;background:#000000"></div><div style="position:absolute;left:60px;top:86px;line-height:13px;white-space:nowrap;transform:scaleY(1.12);transform-origin:0 0">P1B:7(0.666667)</div><div style="position:absolute;left:9px;top:105px;width:47px;height:1px;background:#b01010"></div><div style="position:absolute;left:60px;top:99px;line-height:13px;white-space:nowrap;transform:scaleY(1.12);transform-origin:0 0">P1B:8(0.777778)</div><div style="position:absolute;left:9px;top:118px;width:47px;height:1px;background:#10a020"></div><div style="position:absolute;left:60px;top:112px;line-height:13px;white-space:nowrap;transform:scaleY(1.12);transform-origin:0 0">P1B:9(0.888889)</div><div style="position:absolute;left:9px;top:131px;width:47px;height:1px;background:#101090"></div><div style="position:absolute;left:60px;top:125px;line-height:13px;white-space:nowrap;transform:scaleY(1.12);transform-origin:0 0">P1B:10(1)</div>
</div>
<div id="lb">
<div style="position:absolute;left:8px;top:-1px;line-height:13px;white-space:nowrap">a1</div><div style="position:absolute;left:73px;top:-1px;line-height:13px;white-space:nowrap">= 50</div><div style="position:absolute;left:8px;top:12px;line-height:13px;white-space:nowrap">a2</div><div style="position:absolute;left:73px;top:12px;line-height:13px;white-space:nowrap">= 3</div><div style="position:absolute;left:8px;top:25px;line-height:13px;white-space:nowrap">b1</div><div style="position:absolute;left:73px;top:25px;line-height:13px;white-space:nowrap">= 0.2</div><div style="position:absolute;left:8px;top:38px;line-height:13px;white-space:nowrap">b2</div><div style="position:absolute;left:73px;top:38px;line-height:13px;white-space:nowrap">= 0.3</div><div style="position:absolute;left:8px;top:51px;line-height:13px;white-space:nowrap">d1</div><div style="position:absolute;left:73px;top:51px;line-height:13px;white-space:nowrap">= 0.5</div><div style="position:absolute;left:8px;top:64px;line-height:13px;white-space:nowrap">d2</div><div style="position:absolute;left:73px;top:64px;line-height:13px;white-space:nowrap">= 0.2</div><div style="position:absolute;left:8px;top:77px;line-height:13px;white-space:nowrap">f1</div><div style="position:absolute;left:73px;top:77px;line-height:13px;white-space:nowrap">= 0.2</div><div style="position:absolute;left:8px;top:90px;line-height:13px;white-space:nowrap">f2</div><div style="position:absolute;left:73px;top:90px;line-height:13px;white-space:nowrap">= 0.3</div><div style="position:absolute;left:8px;top:103px;line-height:13px;white-space:nowrap">g1</div><div style="position:absolute;left:73px;top:103px;line-height:13px;white-space:nowrap">= 0.2</div><div style="position:absolute;left:8px;top:116px;line-height:13px;white-space:nowrap">g2</div><div style="position:absolute;left:73px;top:116px;line-height:13px;white-space:nowrap">= 0.3</div><div style="position:absolute;left:8px;top:129px;line-height:13px;white-space:nowrap">prob11</div><div style="position:absolute;left:73px;top:129px;line-height:13px;white-space:nowrap">= 0.5</div><div style="position:absolute;left:8px;top:142px;line-height:13px;white-space:nowrap">prob12</div><div style="position:absolute;left:73px;top:142px;line-height:13px;white-space:nowrap">= 0.5</div><div style="position:absolute;left:8px;top:155px;line-height:13px;white-space:nowrap">prob21</div><div style="position:absolute;left:73px;top:155px;line-height:13px;white-space:nowrap">= 0.5</div><div style="position:absolute;left:8px;top:168px;line-height:13px;white-space:nowrap">prob22</div><div style="position:absolute;left:73px;top:168px;line-height:13px;white-space:nowrap">= 0.5</div><div style="position:absolute;left:8px;top:181px;line-height:13px;white-space:nowrap">qrob11</div><div style="position:absolute;left:73px;top:181px;line-height:13px;white-space:nowrap">= 0.4</div><div style="position:absolute;left:8px;top:194px;line-height:13px;white-space:nowrap">qrob12</div><div style="position:absolute;left:73px;top:194px;line-height:13px;white-space:nowrap">= 0...1</div><div style="position:absolute;left:8px;top:207px;line-height:13px;white-space:nowrap">qrob21</div><div style="position:absolute;left:73px;top:207px;line-height:13px;white-space:nowrap">= 0.4</div><div style="position:absolute;left:8px;top:220px;line-height:13px;white-space:nowrap">qrob22</div><div style="position:absolute;left:73px;top:220px;line-height:13px;white-space:nowrap">= 0.4</div><div style="position:absolute;left:8px;top:233px;line-height:13px;white-space:nowrap">S11</div><div style="position:absolute;left:73px;top:233px;line-height:13px;white-space:nowrap">= 0.2</div><div style="position:absolute;left:8px;top:246px;line-height:13px;white-space:nowrap">S12</div><div style="position:absolute;left:73px;top:246px;line-height:13px;white-space:nowrap">= 0.2</div><div style="position:absolute;left:8px;top:259px;line-height:13px;white-space:nowrap">S21</div><div style="position:absolute;left:73px;top:259px;line-height:13px;white-space:nowrap">= 0.3</div><div style="position:absolute;left:8px;top:272px;line-height:13px;white-space:nowrap">S22</div><div style="position:absolute;left:73px;top:272px;line-height:13px;white-space:nowrap">= 0.3</div><div style="position:absolute;left:8px;top:285px;line-height:13px;white-space:nowrap">L11</div><div style="position:absolute;left:73px;top:285px;line-height:13px;white-space:nowrap">= 1</div><div style="position:absolute;left:8px;top:298px;line-height:13px;white-space:nowrap">L12</div><div style="position:absolute;left:73px;top:298px;line-height:13px;white-space:nowrap">= 2</div><div style="position:absolute;left:8px;top:311px;line-height:13px;white-space:nowrap">L21</div><div style="position:absolute;left:73px;top:311px;line-height:13px;white-space:nowrap">= 1</div><div style="position:absolute;left:8px;top:324px;line-height:13px;white-space:nowrap">L22</div><div style="position:absolute;left:73px;top:324px;line-height:13px;white-space:nowrap">= 2</div><div style="position:absolute;left:8px;top:337px;line-height:13px;white-space:nowrap">Z11</div><div style="position:absolute;left:73px;top:337px;line-height:13px;white-space:nowrap">= 0.2</div><div style="position:absolute;left:8px;top:350px;line-height:13px;white-space:nowrap">Z12</div><div style="position:absolute;left:73px;top:350px;line-height:13px;white-space:nowrap">= 0.2</div><div style="position:absolute;left:8px;top:363px;line-height:13px;white-space:nowrap">Z21</div><div style="position:absolute;left:73px;top:363px;line-height:13px;white-space:nowrap">= 0.3</div><div style="position:absolute;left:8px;top:376px;line-height:13px;white-space:nowrap">Z22</div><div style="position:absolute;left:73px;top:376px;line-height:13px;white-space:nowrap">= 0.3</div><div style="position:absolute;left:8px;top:389px;line-height:13px;white-space:nowrap">V11</div><div style="position:absolute;left:73px;top:389px;line-height:13px;white-space:nowrap">= 2</div><div style="position:absolute;left:8px;top:402px;line-height:13px;white-space:nowrap">V12</div><div style="position:absolute;left:73px;top:402px;line-height:13px;white-space:nowrap">= 3</div><div style="position:absolute;left:8px;top:415px;line-height:13px;white-space:nowrap">V21</div><div style="position:absolute;left:73px;top:415px;line-height:13px;white-space:nowrap">= 2</div><div style="position:absolute;left:8px;top:428px;line-height:13px;white-space:nowrap">V22</div><div style="position:absolute;left:73px;top:428px;line-height:13px;white-space:nowrap">= 3</div><div style="position:absolute;left:8px;top:441px;line-height:13px;white-space:nowrap">pb1</div><div style="position:absolute;left:73px;top:441px;line-height:13px;white-space:nowrap">= 0.4</div><div style="position:absolute;left:8px;top:454px;line-height:13px;white-space:nowrap">pb2</div><div style="position:absolute;left:73px;top:454px;line-height:13px;white-space:nowrap">= 0.6</div>
<div id="sb"><div id="thumb"></div>
<svg width="16" height="464" style="position:absolute;left:0;top:0"><path d="M4.5,11 L11.5,11 L8,7 Z" fill="#3c3c3c"/><path d="M4.5,455 L11.5,455 L8,459 Z" fill="#3c3c3c"/>
<rect x="4" y="249" width="7" height="1" fill="#505050"/><rect x="4" y="252" width="7" height="1" fill="#505050"/><rect x="4" y="255" width="7" height="1" fill="#505050"/></svg>
</div>
</div>
</body></html>
